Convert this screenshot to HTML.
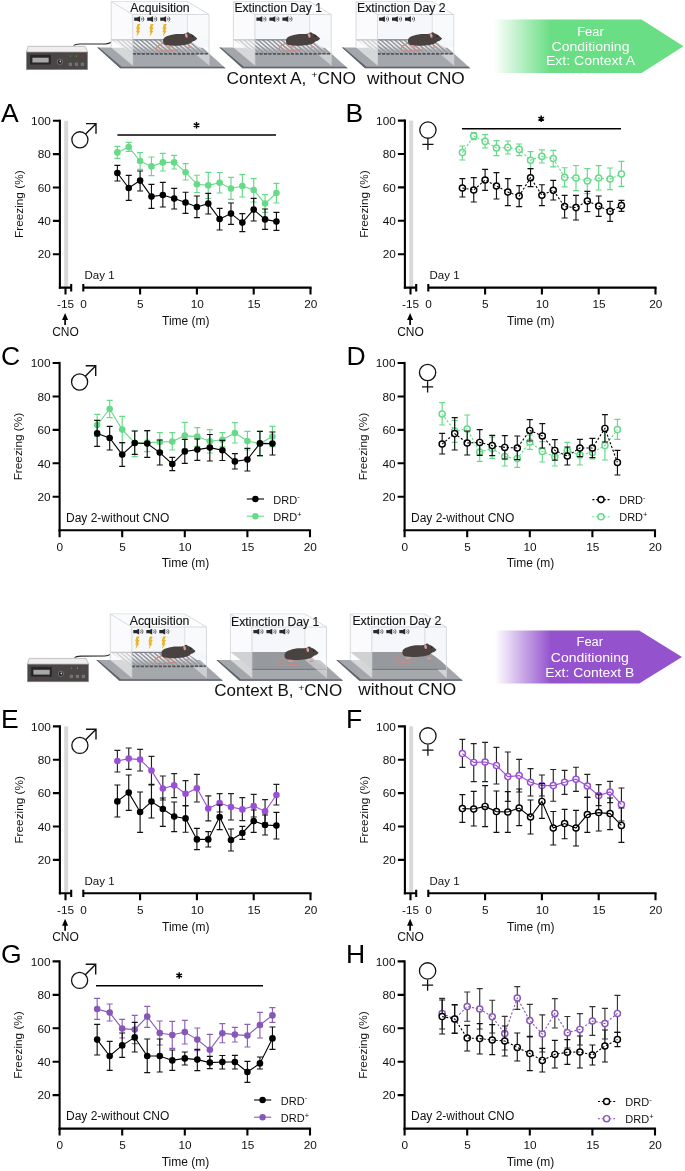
<!DOCTYPE html><html><head><meta charset="utf-8"><style>html,body{margin:0;padding:0;background:#fff;}svg{display:block;will-change:transform;}</style></head><body><svg width="685" height="1171" viewBox="0 0 685 1171" font-family='"Liberation Sans", sans-serif'><rect width="685" height="1171" fill="#fff"/><rect x="26.4" y="52" width="61.2" height="17.7" fill="#4a4646" stroke="#8f8f8f" stroke-width="0.6"/><path d="M28.1,46.3 L85,46.3 L87.6,52 L26.4,52 Z" fill="#efeded" stroke="#8f8f8f" stroke-width="0.5"/><rect x="30.1" y="54.8" width="20.7" height="9.7" fill="#262626"/><rect x="32.4" y="57.7" width="16.3" height="4.8" fill="#a8a8a8"/><circle cx="59.9" cy="61.8" r="2.6" fill="#1f1f1f" stroke="#b0b0b0" stroke-width="0.5"/><circle cx="60.3" cy="61.4" r="0.9" fill="#d0d0d0"/><circle cx="70.4" cy="56" r="0.6" fill="#46c046"/><rect x="69.1" y="63" width="2.6" height="2.6" rx="0.6" fill="#6c6c6c" stroke="#a0a0a0" stroke-width="0.4"/><circle cx="76.4" cy="56" r="0.6" fill="#e0a528"/><rect x="75.1" y="63" width="2.6" height="2.6" rx="0.6" fill="#6c6c6c" stroke="#a0a0a0" stroke-width="0.4"/><circle cx="82.4" cy="56" r="0.6" fill="#d23a32"/><rect x="81.1" y="63" width="2.6" height="2.6" rx="0.6" fill="#6c6c6c" stroke="#a0a0a0" stroke-width="0.4"/><path d="M73.7,45.7 C74.6,44.3 76.1,44.1 80.1,44 L105.8,43.9 C108.8,43.8 109.8,43.2 111.2,42.3" fill="none" stroke="#2a2a2a" stroke-width="1.1"/><path d="M97.2,47.6 L202.5,47.6 L225.5,68.3 L120.2,68.3 Z" fill="#a3a6ab"/><path d="M97.2,47.6 L120.2,68.3 L225.5,68.3 L223.7,66.7 L121.6,66.7 L98.9,47.6 Z" fill="#5e646b"/><path d="M111.2,1.5 L187.5,1.5 L209,14.5 L209,47.6 L111.2,47.6 Z" fill="#f5f7fa"/><path d="M111.2,39.4 L187.5,39.4 L209,53.8 L132.7,53.8 Z" fill="#979ba0"/><clipPath id="fl111_0"><path d="M111.2,39.4 L187.5,39.4 L209,53.8 L132.7,53.8 Z"/></clipPath><path clip-path="url(#fl111_0)" d="M81.2,39.4 l16.7,14.4 M85.9,39.4 l16.7,14.4 M90.6,39.4 l16.7,14.4 M95.3,39.4 l16.7,14.4 M100,39.4 l16.7,14.4 M104.7,39.4 l16.7,14.4 M109.4,39.4 l16.7,14.4 M114.1,39.4 l16.7,14.4 M118.8,39.4 l16.7,14.4 M123.5,39.4 l16.7,14.4 M128.2,39.4 l16.7,14.4 M132.9,39.4 l16.7,14.4 M137.6,39.4 l16.7,14.4 M142.3,39.4 l16.7,14.4 M147,39.4 l16.7,14.4 M151.7,39.4 l16.7,14.4 M156.4,39.4 l16.7,14.4 M161.1,39.4 l16.7,14.4 M165.8,39.4 l16.7,14.4 M170.5,39.4 l16.7,14.4 M175.2,39.4 l16.7,14.4 M179.9,39.4 l16.7,14.4 M184.6,39.4 l16.7,14.4 M189.3,39.4 l16.7,14.4 M194,39.4 l16.7,14.4" stroke="#f3f4f5" stroke-width="1.4"/><linearGradient id="fg111_0" x1="0" y1="39.4" x2="0" y2="53.8" gradientUnits="userSpaceOnUse"><stop offset="0.45" stop-color="#979ba0" stop-opacity="0"/><stop offset="0.8" stop-color="#979ba0" stop-opacity="0.75"/></linearGradient><path d="M111.2,39.4 L187.5,39.4 L209,53.8 L132.7,53.8 Z" fill="url(#fg111_0)"/><line x1="111.2" y1="39.9" x2="187.5" y2="39.9" stroke="#80848a" stroke-width="1.2"/><rect x="132.7" y="53.8" width="76.3" height="11.6" fill="#a4a7ac"/><path d="M111.2,1.5 L187.5,1.5 M187.5,1.5 L187.5,39.4" fill="none" stroke="#cfd2d6" stroke-width="0.8"/><line x1="132.7" y1="53.8" x2="209" y2="53.8" stroke="#50555b" stroke-width="1.7" stroke-dasharray="3.2,1.3"/><path d="M111.2,1.5 L132.7,14.5 L132.7,65.4 L111.2,47.6 Z" fill="#ffffff" fill-opacity="0.55"/><path d="M187.5,1.5 L209,14.5 L209,39.4 L187.5,39.4 Z" fill="#ffffff" fill-opacity="0.4"/><path d="M196,54.6 L209,54.6 L209,65.4 Z" fill="#ffffff" fill-opacity="0.45"/><g transform="translate(180.2,40) scale(1.07)"><path d="M-15.6,3 C-19,4 -23,6.5 -22.3,8.8 C-21.6,10.8 -18,10.6 -13,10.2 C-9,9.9 -5,9.4 -2,9.1" fill="none" stroke="#c98a80" stroke-width="1.15"/><ellipse cx="-10.4" cy="6.2" rx="2.6" ry="1" fill="#d29b93"/><ellipse cx="9" cy="6.5" rx="2" ry="0.9" fill="#d29b93"/><path d="M-16,1.1 C-16,-2 -14,-3 -11.1,-3.9 C-8,-5.2 -5,-5.7 -1,-5.7 C2,-5.7 4,-5.5 5.5,-6.3 C6.3,-7.6 7.8,-7.6 8.6,-6.4 C11,-5.6 14,-3.6 15.9,-1.4 C15.2,0 13.6,0.9 12,1.1 C10.5,2.4 8.6,3.6 6.8,4 C3,5.2 -1,5.4 -4.1,5.3 C-8,5.2 -11,5.1 -13.5,4.6 C-15.3,4 -16,2.8 -16,1.1 Z" fill="#4a4240"/><ellipse cx="5.7" cy="-4.2" rx="1.2" ry="2.1" fill="#d8a19a" transform="rotate(-15 5.7 -4.2)"/><circle cx="11.3" cy="-3.4" r="0.7" fill="#1c1817"/></g><path d="M111.2,1.5 L187.5,1.5 L209,14.5 L132.7,14.5 Z" fill="#ffffff" fill-opacity="0.5"/><path d="M111.2,1.5 L132.7,14.5 L209,14.5 L187.5,1.5 M111.2,1.5 L111.2,47.6 M132.7,14.5 L132.7,65.4 M209,14.5 L209,65.4" fill="none" stroke="#cfd2d6" stroke-width="0.8"/><text x="130.3" y="12.2" font-size="12.3" textLength="59.4" lengthAdjust="spacingAndGlyphs" fill="#151515" stroke="#151515" stroke-width="0.12">Acquisition</text><path d="M134.2,17.5 h3 L140.1,16.3 V21.9 L137.2,20.7 h-3 Z" fill="#2a2a2a"/><path d="M141.4,17.8 A1.7,1.7 0 0 1 141.4,20.4 M142.6,16.7 A3,3 0 0 1 142.6,21.5" fill="none" stroke="#333" stroke-width="0.8"/><path d="M147.2,17.5 h3 L153.1,16.3 V21.9 L150.2,20.7 h-3 Z" fill="#2a2a2a"/><path d="M154.4,17.8 A1.7,1.7 0 0 1 154.4,20.4 M155.6,16.7 A3,3 0 0 1 155.6,21.5" fill="none" stroke="#333" stroke-width="0.8"/><path d="M160.2,17.5 h3 L166.1,16.3 V21.9 L163.2,20.7 h-3 Z" fill="#2a2a2a"/><path d="M167.4,17.8 A1.7,1.7 0 0 1 167.4,20.4 M168.6,16.7 A3,3 0 0 1 168.6,21.5" fill="none" stroke="#333" stroke-width="0.8"/><path d="M137.5,23.9 L140.4,23.9 L138.9,27.5 L140.4,27.5 L138.7,31.1 L140.2,31.1 L136.4,36.7 L137.4,32.3 L136.1,32.3 L137.2,28.9 L136.1,28.9 Z" fill="#ecb424"/><path d="M150.7,23.9 L153.6,23.9 L152.1,27.5 L153.6,27.5 L151.9,31.1 L153.4,31.1 L149.6,36.7 L150.6,32.3 L149.3,32.3 L150.4,28.9 L149.3,28.9 Z" fill="#ecb424"/><path d="M163.9,23.9 L166.8,23.9 L165.3,27.5 L166.8,27.5 L165.1,31.1 L166.6,31.1 L162.8,36.7 L163.8,32.3 L162.5,32.3 L163.6,28.9 L162.5,28.9 Z" fill="#ecb424"/><path d="M219.4,47.6 L324.7,47.6 L347.7,68.3 L242.4,68.3 Z" fill="#a3a6ab"/><path d="M219.4,47.6 L242.4,68.3 L347.7,68.3 L345.9,66.7 L243.8,66.7 L221.1,47.6 Z" fill="#5e646b"/><path d="M233.4,1.5 L309.7,1.5 L331.2,14.5 L331.2,47.6 L233.4,47.6 Z" fill="#f5f7fa"/><path d="M233.4,39.4 L309.7,39.4 L331.2,53.8 L254.9,53.8 Z" fill="#979ba0"/><clipPath id="fl233_0"><path d="M233.4,39.4 L309.7,39.4 L331.2,53.8 L254.9,53.8 Z"/></clipPath><path clip-path="url(#fl233_0)" d="M203.4,39.4 l16.7,14.4 M208.1,39.4 l16.7,14.4 M212.8,39.4 l16.7,14.4 M217.5,39.4 l16.7,14.4 M222.2,39.4 l16.7,14.4 M226.9,39.4 l16.7,14.4 M231.6,39.4 l16.7,14.4 M236.3,39.4 l16.7,14.4 M241,39.4 l16.7,14.4 M245.7,39.4 l16.7,14.4 M250.4,39.4 l16.7,14.4 M255.1,39.4 l16.7,14.4 M259.8,39.4 l16.7,14.4 M264.5,39.4 l16.7,14.4 M269.2,39.4 l16.7,14.4 M273.9,39.4 l16.7,14.4 M278.6,39.4 l16.7,14.4 M283.3,39.4 l16.7,14.4 M288,39.4 l16.7,14.4 M292.7,39.4 l16.7,14.4 M297.4,39.4 l16.7,14.4 M302.1,39.4 l16.7,14.4 M306.8,39.4 l16.7,14.4 M311.5,39.4 l16.7,14.4 M316.2,39.4 l16.7,14.4" stroke="#f3f4f5" stroke-width="1.4"/><linearGradient id="fg233_0" x1="0" y1="39.4" x2="0" y2="53.8" gradientUnits="userSpaceOnUse"><stop offset="0.45" stop-color="#979ba0" stop-opacity="0"/><stop offset="0.8" stop-color="#979ba0" stop-opacity="0.75"/></linearGradient><path d="M233.4,39.4 L309.7,39.4 L331.2,53.8 L254.9,53.8 Z" fill="url(#fg233_0)"/><line x1="233.4" y1="39.9" x2="309.7" y2="39.9" stroke="#80848a" stroke-width="1.2"/><rect x="254.9" y="53.8" width="76.3" height="11.6" fill="#a4a7ac"/><path d="M233.4,1.5 L309.7,1.5 M309.7,1.5 L309.7,39.4" fill="none" stroke="#cfd2d6" stroke-width="0.8"/><line x1="254.9" y1="53.8" x2="331.2" y2="53.8" stroke="#50555b" stroke-width="1.7" stroke-dasharray="3.2,1.3"/><path d="M233.4,1.5 L254.9,14.5 L254.9,65.4 L233.4,47.6 Z" fill="#ffffff" fill-opacity="0.55"/><path d="M309.7,1.5 L331.2,14.5 L331.2,39.4 L309.7,39.4 Z" fill="#ffffff" fill-opacity="0.4"/><path d="M318.2,54.6 L331.2,54.6 L331.2,65.4 Z" fill="#ffffff" fill-opacity="0.45"/><g transform="translate(303.1,40) scale(1.07)"><path d="M-15.6,3 C-19,4 -23,6.5 -22.3,8.8 C-21.6,10.8 -18,10.6 -13,10.2 C-9,9.9 -5,9.4 -2,9.1" fill="none" stroke="#c98a80" stroke-width="1.15"/><ellipse cx="-10.4" cy="6.2" rx="2.6" ry="1" fill="#d29b93"/><ellipse cx="9" cy="6.5" rx="2" ry="0.9" fill="#d29b93"/><path d="M-16,1.1 C-16,-2 -14,-3 -11.1,-3.9 C-8,-5.2 -5,-5.7 -1,-5.7 C2,-5.7 4,-5.5 5.5,-6.3 C6.3,-7.6 7.8,-7.6 8.6,-6.4 C11,-5.6 14,-3.6 15.9,-1.4 C15.2,0 13.6,0.9 12,1.1 C10.5,2.4 8.6,3.6 6.8,4 C3,5.2 -1,5.4 -4.1,5.3 C-8,5.2 -11,5.1 -13.5,4.6 C-15.3,4 -16,2.8 -16,1.1 Z" fill="#4a4240"/><ellipse cx="5.7" cy="-4.2" rx="1.2" ry="2.1" fill="#d8a19a" transform="rotate(-15 5.7 -4.2)"/><circle cx="11.3" cy="-3.4" r="0.7" fill="#1c1817"/></g><path d="M233.4,1.5 L309.7,1.5 L331.2,14.5 L254.9,14.5 Z" fill="#ffffff" fill-opacity="0.5"/><path d="M233.4,1.5 L254.9,14.5 L331.2,14.5 L309.7,1.5 M233.4,1.5 L233.4,47.6 M254.9,14.5 L254.9,65.4 M331.2,14.5 L331.2,65.4" fill="none" stroke="#cfd2d6" stroke-width="0.8"/><text x="234.4" y="12.4" font-size="12.3" textLength="87.6" lengthAdjust="spacingAndGlyphs" fill="#151515" stroke="#151515" stroke-width="0.12">Extinction Day 1</text><path d="M256.4,17.5 h3 L262.3,16.3 V21.9 L259.4,20.7 h-3 Z" fill="#2a2a2a"/><path d="M263.6,17.8 A1.7,1.7 0 0 1 263.6,20.4 M264.8,16.7 A3,3 0 0 1 264.8,21.5" fill="none" stroke="#333" stroke-width="0.8"/><path d="M269.4,17.5 h3 L275.3,16.3 V21.9 L272.4,20.7 h-3 Z" fill="#2a2a2a"/><path d="M276.6,17.8 A1.7,1.7 0 0 1 276.6,20.4 M277.8,16.7 A3,3 0 0 1 277.8,21.5" fill="none" stroke="#333" stroke-width="0.8"/><path d="M282.4,17.5 h3 L288.3,16.3 V21.9 L285.4,20.7 h-3 Z" fill="#2a2a2a"/><path d="M289.6,17.8 A1.7,1.7 0 0 1 289.6,20.4 M290.8,16.7 A3,3 0 0 1 290.8,21.5" fill="none" stroke="#333" stroke-width="0.8"/><path d="M342,47.6 L447.3,47.6 L470.3,68.3 L365,68.3 Z" fill="#a3a6ab"/><path d="M342,47.6 L365,68.3 L470.3,68.3 L468.5,66.7 L366.4,66.7 L343.7,47.6 Z" fill="#5e646b"/><path d="M356,1.5 L432.3,1.5 L453.8,14.5 L453.8,47.6 L356,47.6 Z" fill="#f5f7fa"/><path d="M356,39.4 L432.3,39.4 L453.8,53.8 L377.5,53.8 Z" fill="#979ba0"/><clipPath id="fl356_0"><path d="M356,39.4 L432.3,39.4 L453.8,53.8 L377.5,53.8 Z"/></clipPath><path clip-path="url(#fl356_0)" d="M326,39.4 l16.7,14.4 M330.7,39.4 l16.7,14.4 M335.4,39.4 l16.7,14.4 M340.1,39.4 l16.7,14.4 M344.8,39.4 l16.7,14.4 M349.5,39.4 l16.7,14.4 M354.2,39.4 l16.7,14.4 M358.9,39.4 l16.7,14.4 M363.6,39.4 l16.7,14.4 M368.3,39.4 l16.7,14.4 M373,39.4 l16.7,14.4 M377.7,39.4 l16.7,14.4 M382.4,39.4 l16.7,14.4 M387.1,39.4 l16.7,14.4 M391.8,39.4 l16.7,14.4 M396.5,39.4 l16.7,14.4 M401.2,39.4 l16.7,14.4 M405.9,39.4 l16.7,14.4 M410.6,39.4 l16.7,14.4 M415.3,39.4 l16.7,14.4 M420,39.4 l16.7,14.4 M424.7,39.4 l16.7,14.4 M429.4,39.4 l16.7,14.4 M434.1,39.4 l16.7,14.4 M438.8,39.4 l16.7,14.4" stroke="#f3f4f5" stroke-width="1.4"/><linearGradient id="fg356_0" x1="0" y1="39.4" x2="0" y2="53.8" gradientUnits="userSpaceOnUse"><stop offset="0.45" stop-color="#979ba0" stop-opacity="0"/><stop offset="0.8" stop-color="#979ba0" stop-opacity="0.75"/></linearGradient><path d="M356,39.4 L432.3,39.4 L453.8,53.8 L377.5,53.8 Z" fill="url(#fg356_0)"/><line x1="356" y1="39.9" x2="432.3" y2="39.9" stroke="#80848a" stroke-width="1.2"/><rect x="377.5" y="53.8" width="76.3" height="11.6" fill="#a4a7ac"/><path d="M356,1.5 L432.3,1.5 M432.3,1.5 L432.3,39.4" fill="none" stroke="#cfd2d6" stroke-width="0.8"/><line x1="377.5" y1="53.8" x2="453.8" y2="53.8" stroke="#50555b" stroke-width="1.7" stroke-dasharray="3.2,1.3"/><path d="M356,1.5 L377.5,14.5 L377.5,65.4 L356,47.6 Z" fill="#ffffff" fill-opacity="0.55"/><path d="M432.3,1.5 L453.8,14.5 L453.8,39.4 L432.3,39.4 Z" fill="#ffffff" fill-opacity="0.4"/><path d="M440.8,54.6 L453.8,54.6 L453.8,65.4 Z" fill="#ffffff" fill-opacity="0.45"/><g transform="translate(425.1,40) scale(1.07)"><path d="M-15.6,3 C-19,4 -23,6.5 -22.3,8.8 C-21.6,10.8 -18,10.6 -13,10.2 C-9,9.9 -5,9.4 -2,9.1" fill="none" stroke="#c98a80" stroke-width="1.15"/><ellipse cx="-10.4" cy="6.2" rx="2.6" ry="1" fill="#d29b93"/><ellipse cx="9" cy="6.5" rx="2" ry="0.9" fill="#d29b93"/><path d="M-16,1.1 C-16,-2 -14,-3 -11.1,-3.9 C-8,-5.2 -5,-5.7 -1,-5.7 C2,-5.7 4,-5.5 5.5,-6.3 C6.3,-7.6 7.8,-7.6 8.6,-6.4 C11,-5.6 14,-3.6 15.9,-1.4 C15.2,0 13.6,0.9 12,1.1 C10.5,2.4 8.6,3.6 6.8,4 C3,5.2 -1,5.4 -4.1,5.3 C-8,5.2 -11,5.1 -13.5,4.6 C-15.3,4 -16,2.8 -16,1.1 Z" fill="#4a4240"/><ellipse cx="5.7" cy="-4.2" rx="1.2" ry="2.1" fill="#d8a19a" transform="rotate(-15 5.7 -4.2)"/><circle cx="11.3" cy="-3.4" r="0.7" fill="#1c1817"/></g><path d="M356,1.5 L432.3,1.5 L453.8,14.5 L377.5,14.5 Z" fill="#ffffff" fill-opacity="0.5"/><path d="M356,1.5 L377.5,14.5 L453.8,14.5 L432.3,1.5 M356,1.5 L356,47.6 M377.5,14.5 L377.5,65.4 M453.8,14.5 L453.8,65.4" fill="none" stroke="#cfd2d6" stroke-width="0.8"/><text x="357" y="12.4" font-size="12.3" textLength="88.6" lengthAdjust="spacingAndGlyphs" fill="#151515" stroke="#151515" stroke-width="0.12">Extinction Day 2</text><path d="M379,17.5 h3 L384.9,16.3 V21.9 L382,20.7 h-3 Z" fill="#2a2a2a"/><path d="M386.2,17.8 A1.7,1.7 0 0 1 386.2,20.4 M387.4,16.7 A3,3 0 0 1 387.4,21.5" fill="none" stroke="#333" stroke-width="0.8"/><path d="M392,17.5 h3 L397.9,16.3 V21.9 L395,20.7 h-3 Z" fill="#2a2a2a"/><path d="M399.2,17.8 A1.7,1.7 0 0 1 399.2,20.4 M400.4,16.7 A3,3 0 0 1 400.4,21.5" fill="none" stroke="#333" stroke-width="0.8"/><path d="M405,17.5 h3 L410.9,16.3 V21.9 L408,20.7 h-3 Z" fill="#2a2a2a"/><path d="M412.2,17.8 A1.7,1.7 0 0 1 412.2,20.4 M413.4,16.7 A3,3 0 0 1 413.4,21.5" fill="none" stroke="#333" stroke-width="0.8"/><text x="226.5" y="84" font-size="15.6" textLength="129.4" lengthAdjust="spacingAndGlyphs" fill="#111">Context A, <tspan font-size="9.5" dy="-5.6">+</tspan><tspan dy="5.6">CNO</tspan></text><text x="367" y="83.7" font-size="15.6" textLength="97.8" lengthAdjust="spacingAndGlyphs" fill="#111">without CNO</text><defs><linearGradient id="ag0" x1="493.5" x2="683.5" y1="0" y2="0" gradientUnits="userSpaceOnUse"><stop offset="0" stop-color="#6ade85" stop-opacity="0"/><stop offset="0.3" stop-color="#6ade85" stop-opacity="1"/><stop offset="1" stop-color="#6ade85"/></linearGradient></defs><path d="M493.5,19.5 L641.6,19.5 L683.5,46.2 L641.6,72.9 L493.5,72.9 Z" fill="url(#ag0)"/><text x="590.5" y="35.6" font-size="12.6" text-anchor="middle" fill="#fff" textLength="26.5" lengthAdjust="spacingAndGlyphs">Fear</text><text x="590.5" y="50.7" font-size="12.6" text-anchor="middle" fill="#fff" textLength="77.9" lengthAdjust="spacingAndGlyphs">Conditioning</text><text x="590.5" y="65.3" font-size="12.6" text-anchor="middle" fill="#fff" textLength="89.1" lengthAdjust="spacingAndGlyphs">Ext: Context A</text><rect x="27.4" y="664.1" width="61.2" height="17.7" fill="#4a4646" stroke="#8f8f8f" stroke-width="0.6"/><path d="M29.1,658.4 L86,658.4 L88.6,664.1 L27.4,664.1 Z" fill="#efeded" stroke="#8f8f8f" stroke-width="0.5"/><rect x="31.1" y="666.9" width="20.7" height="9.7" fill="#262626"/><rect x="33.4" y="669.8" width="16.3" height="4.8" fill="#a8a8a8"/><circle cx="60.9" cy="673.9" r="2.6" fill="#1f1f1f" stroke="#b0b0b0" stroke-width="0.5"/><circle cx="61.3" cy="673.5" r="0.9" fill="#d0d0d0"/><circle cx="71.4" cy="668.1" r="0.6" fill="#46c046"/><rect x="70.1" y="675.1" width="2.6" height="2.6" rx="0.6" fill="#6c6c6c" stroke="#a0a0a0" stroke-width="0.4"/><circle cx="77.4" cy="668.1" r="0.6" fill="#e0a528"/><rect x="76.1" y="675.1" width="2.6" height="2.6" rx="0.6" fill="#6c6c6c" stroke="#a0a0a0" stroke-width="0.4"/><circle cx="83.4" cy="668.1" r="0.6" fill="#d23a32"/><rect x="82.1" y="675.1" width="2.6" height="2.6" rx="0.6" fill="#6c6c6c" stroke="#a0a0a0" stroke-width="0.4"/><path d="M74.7,657.8 C75.6,656.4 77.1,656.2 81.1,656.1 L104.9,656 C107.9,655.9 108.9,655.3 110.3,654.4" fill="none" stroke="#2a2a2a" stroke-width="1.1"/><path d="M96.3,660.1 L199.9,660.1 L222.9,680.8 L119.3,680.8 Z" fill="#a3a6ab"/><path d="M96.3,660.1 L119.3,680.8 L222.9,680.8 L221.1,679.2 L120.7,679.2 L98,660.1 Z" fill="#5e646b"/><path d="M110.3,614 L184.9,614 L206.4,627 L206.4,660.1 L110.3,660.1 Z" fill="#f5f7fa"/><path d="M110.3,651.9 L184.9,651.9 L206.4,666.3 L131.8,666.3 Z" fill="#979ba0"/><clipPath id="fl110_612"><path d="M110.3,651.9 L184.9,651.9 L206.4,666.3 L131.8,666.3 Z"/></clipPath><path clip-path="url(#fl110_612)" d="M80.3,651.9 l16.7,14.4 M85,651.9 l16.7,14.4 M89.7,651.9 l16.7,14.4 M94.4,651.9 l16.7,14.4 M99.1,651.9 l16.7,14.4 M103.8,651.9 l16.7,14.4 M108.5,651.9 l16.7,14.4 M113.2,651.9 l16.7,14.4 M117.9,651.9 l16.7,14.4 M122.6,651.9 l16.7,14.4 M127.3,651.9 l16.7,14.4 M132,651.9 l16.7,14.4 M136.7,651.9 l16.7,14.4 M141.4,651.9 l16.7,14.4 M146.1,651.9 l16.7,14.4 M150.8,651.9 l16.7,14.4 M155.5,651.9 l16.7,14.4 M160.2,651.9 l16.7,14.4 M164.9,651.9 l16.7,14.4 M169.6,651.9 l16.7,14.4 M174.3,651.9 l16.7,14.4 M179,651.9 l16.7,14.4 M183.7,651.9 l16.7,14.4 M188.4,651.9 l16.7,14.4" stroke="#f3f4f5" stroke-width="1.4"/><linearGradient id="fg110_612" x1="0" y1="651.9" x2="0" y2="666.3" gradientUnits="userSpaceOnUse"><stop offset="0.45" stop-color="#979ba0" stop-opacity="0"/><stop offset="0.8" stop-color="#979ba0" stop-opacity="0.75"/></linearGradient><path d="M110.3,651.9 L184.9,651.9 L206.4,666.3 L131.8,666.3 Z" fill="url(#fg110_612)"/><line x1="110.3" y1="652.4" x2="184.9" y2="652.4" stroke="#80848a" stroke-width="1.2"/><rect x="131.8" y="666.3" width="74.6" height="11.6" fill="#a4a7ac"/><path d="M110.3,614 L184.9,614 M184.9,614 L184.9,651.9" fill="none" stroke="#cfd2d6" stroke-width="0.8"/><line x1="131.8" y1="666.3" x2="206.4" y2="666.3" stroke="#50555b" stroke-width="1.7" stroke-dasharray="3.2,1.3"/><path d="M110.3,614 L131.8,627 L131.8,677.9 L110.3,660.1 Z" fill="#ffffff" fill-opacity="0.55"/><path d="M184.9,614 L206.4,627 L206.4,651.9 L184.9,651.9 Z" fill="#ffffff" fill-opacity="0.4"/><path d="M193.4,667.1 L206.4,667.1 L206.4,677.9 Z" fill="#ffffff" fill-opacity="0.45"/><g transform="translate(178.5,652.5) scale(1.07)"><path d="M-15.6,3 C-19,4 -23,6.5 -22.3,8.8 C-21.6,10.8 -18,10.6 -13,10.2 C-9,9.9 -5,9.4 -2,9.1" fill="none" stroke="#c98a80" stroke-width="1.15"/><ellipse cx="-10.4" cy="6.2" rx="2.6" ry="1" fill="#d29b93"/><ellipse cx="9" cy="6.5" rx="2" ry="0.9" fill="#d29b93"/><path d="M-16,1.1 C-16,-2 -14,-3 -11.1,-3.9 C-8,-5.2 -5,-5.7 -1,-5.7 C2,-5.7 4,-5.5 5.5,-6.3 C6.3,-7.6 7.8,-7.6 8.6,-6.4 C11,-5.6 14,-3.6 15.9,-1.4 C15.2,0 13.6,0.9 12,1.1 C10.5,2.4 8.6,3.6 6.8,4 C3,5.2 -1,5.4 -4.1,5.3 C-8,5.2 -11,5.1 -13.5,4.6 C-15.3,4 -16,2.8 -16,1.1 Z" fill="#4a4240"/><ellipse cx="5.7" cy="-4.2" rx="1.2" ry="2.1" fill="#d8a19a" transform="rotate(-15 5.7 -4.2)"/><circle cx="11.3" cy="-3.4" r="0.7" fill="#1c1817"/></g><path d="M110.3,614 L184.9,614 L206.4,627 L131.8,627 Z" fill="#ffffff" fill-opacity="0.5"/><path d="M110.3,614 L131.8,627 L206.4,627 L184.9,614 M110.3,614 L110.3,660.1 M131.8,627 L131.8,677.9 M206.4,627 L206.4,677.9" fill="none" stroke="#cfd2d6" stroke-width="0.8"/><text x="129.7" y="625.4" font-size="12.3" textLength="59.7" lengthAdjust="spacingAndGlyphs" fill="#151515" stroke="#151515" stroke-width="0.12">Acquisition</text><path d="M133.3,630 h3 L139.2,628.8 V634.4 L136.3,633.2 h-3 Z" fill="#2a2a2a"/><path d="M140.5,630.3 A1.7,1.7 0 0 1 140.5,632.9 M141.7,629.2 A3,3 0 0 1 141.7,634" fill="none" stroke="#333" stroke-width="0.8"/><path d="M146.3,630 h3 L152.2,628.8 V634.4 L149.3,633.2 h-3 Z" fill="#2a2a2a"/><path d="M153.5,630.3 A1.7,1.7 0 0 1 153.5,632.9 M154.7,629.2 A3,3 0 0 1 154.7,634" fill="none" stroke="#333" stroke-width="0.8"/><path d="M159.3,630 h3 L165.2,628.8 V634.4 L162.3,633.2 h-3 Z" fill="#2a2a2a"/><path d="M166.5,630.3 A1.7,1.7 0 0 1 166.5,632.9 M167.7,629.2 A3,3 0 0 1 167.7,634" fill="none" stroke="#333" stroke-width="0.8"/><path d="M136.6,636.4 L139.5,636.4 L138,640 L139.5,640 L137.8,643.6 L139.3,643.6 L135.5,649.2 L136.5,644.8 L135.2,644.8 L136.3,641.4 L135.2,641.4 Z" fill="#ecb424"/><path d="M149.8,636.4 L152.7,636.4 L151.2,640 L152.7,640 L151,643.6 L152.5,643.6 L148.7,649.2 L149.7,644.8 L148.4,644.8 L149.5,641.4 L148.4,641.4 Z" fill="#ecb424"/><path d="M163,636.4 L165.9,636.4 L164.4,640 L165.9,640 L164.2,643.6 L165.7,643.6 L161.9,649.2 L162.9,644.8 L161.6,644.8 L162.7,641.4 L161.6,641.4 Z" fill="#ecb424"/><path d="M216.4,660.1 L320,660.1 L343,680.8 L239.4,680.8 Z" fill="#a3a6ab"/><path d="M216.4,660.1 L239.4,680.8 L343,680.8 L341.2,679.2 L240.8,679.2 L218.1,660.1 Z" fill="#5e646b"/><path d="M230.4,614 L305,614 L326.5,627 L326.5,660.1 L230.4,660.1 Z" fill="#f5f7fa"/><path d="M230.4,652.1 L305,652.1 L326.5,669.1 L251.9,669.1 Z" fill="#96999e"/><rect x="251.9" y="669.1" width="74.6" height="8.8" fill="#a5a8ad"/><line x1="251.9" y1="669.4" x2="326.5" y2="669.4" stroke="#70757b" stroke-width="1"/><path d="M230.4,614 L305,614 M305,614 L305,652.1" fill="none" stroke="#cfd2d6" stroke-width="0.8"/><path d="M230.4,614 L251.9,627 L251.9,677.9 L230.4,660.1 Z" fill="#ffffff" fill-opacity="0.55"/><path d="M305,614 L326.5,627 L326.5,677.9 L305,660.1 Z" fill="#ffffff" fill-opacity="0.4"/><g transform="translate(301.6,654.3) scale(1.07)"><path d="M-15.6,3 C-19,4 -23,6.5 -22.3,8.8 C-21.6,10.8 -18,10.6 -13,10.2 C-9,9.9 -5,9.4 -2,9.1" fill="none" stroke="#c98a80" stroke-width="1.15"/><ellipse cx="-10.4" cy="6.2" rx="2.6" ry="1" fill="#d29b93"/><ellipse cx="9" cy="6.5" rx="2" ry="0.9" fill="#d29b93"/><path d="M-16,1.1 C-16,-2 -14,-3 -11.1,-3.9 C-8,-5.2 -5,-5.7 -1,-5.7 C2,-5.7 4,-5.5 5.5,-6.3 C6.3,-7.6 7.8,-7.6 8.6,-6.4 C11,-5.6 14,-3.6 15.9,-1.4 C15.2,0 13.6,0.9 12,1.1 C10.5,2.4 8.6,3.6 6.8,4 C3,5.2 -1,5.4 -4.1,5.3 C-8,5.2 -11,5.1 -13.5,4.6 C-15.3,4 -16,2.8 -16,1.1 Z" fill="#4a4240"/><ellipse cx="5.7" cy="-4.2" rx="1.2" ry="2.1" fill="#d8a19a" transform="rotate(-15 5.7 -4.2)"/><circle cx="11.3" cy="-3.4" r="0.7" fill="#1c1817"/></g><path d="M230.4,614 L305,614 L326.5,627 L251.9,627 Z" fill="#ffffff" fill-opacity="0.5"/><path d="M230.4,614 L251.9,627 L326.5,627 L305,614 M230.4,614 L230.4,660.1 M251.9,627 L251.9,677.9 M326.5,627 L326.5,677.9" fill="none" stroke="#cfd2d6" stroke-width="0.8"/><text x="231" y="625.9" font-size="12.3" textLength="88.4" lengthAdjust="spacingAndGlyphs" fill="#151515" stroke="#151515" stroke-width="0.12">Extinction Day 1</text><path d="M253.4,630 h3 L259.3,628.8 V634.4 L256.4,633.2 h-3 Z" fill="#2a2a2a"/><path d="M260.6,630.3 A1.7,1.7 0 0 1 260.6,632.9 M261.8,629.2 A3,3 0 0 1 261.8,634" fill="none" stroke="#333" stroke-width="0.8"/><path d="M266.4,630 h3 L272.3,628.8 V634.4 L269.4,633.2 h-3 Z" fill="#2a2a2a"/><path d="M273.6,630.3 A1.7,1.7 0 0 1 273.6,632.9 M274.8,629.2 A3,3 0 0 1 274.8,634" fill="none" stroke="#333" stroke-width="0.8"/><path d="M279.4,630 h3 L285.3,628.8 V634.4 L282.4,633.2 h-3 Z" fill="#2a2a2a"/><path d="M286.6,630.3 A1.7,1.7 0 0 1 286.6,632.9 M287.8,629.2 A3,3 0 0 1 287.8,634" fill="none" stroke="#333" stroke-width="0.8"/><path d="M336.3,660.1 L439.9,660.1 L462.9,680.8 L359.3,680.8 Z" fill="#a3a6ab"/><path d="M336.3,660.1 L359.3,680.8 L462.9,680.8 L461.1,679.2 L360.7,679.2 L338,660.1 Z" fill="#5e646b"/><path d="M350.3,614 L424.9,614 L446.4,627 L446.4,660.1 L350.3,660.1 Z" fill="#f5f7fa"/><path d="M350.3,652.1 L422.9,652.1 C430.9,652.6 436.9,656.1 446.4,667.6 L446.4,669.1 L371.8,669.1 Z" fill="#96999e"/><rect x="371.8" y="669.1" width="74.6" height="8.8" fill="#a5a8ad"/><line x1="371.8" y1="669.4" x2="446.4" y2="669.4" stroke="#70757b" stroke-width="1"/><path d="M350.3,614 L424.9,614 M424.9,614 L424.9,652.1" fill="none" stroke="#cfd2d6" stroke-width="0.8"/><path d="M350.3,614 L371.8,627 L371.8,677.9 L350.3,660.1 Z" fill="#ffffff" fill-opacity="0.55"/><path d="M437.4,669.6 L446.4,669.6 L446.4,677.9 Z" fill="#ffffff" fill-opacity="0.5"/><g transform="translate(419.5,651.3) scale(1.07)"><path d="M-15.6,3 C-19,4 -23,6.5 -22.3,8.8 C-21.6,10.8 -18,10.6 -13,10.2 C-9,9.9 -5,9.4 -2,9.1" fill="none" stroke="#c98a80" stroke-width="1.15"/><ellipse cx="-10.4" cy="6.2" rx="2.6" ry="1" fill="#d29b93"/><ellipse cx="9" cy="6.5" rx="2" ry="0.9" fill="#d29b93"/><path d="M-16,1.1 C-16,-2 -14,-3 -11.1,-3.9 C-8,-5.2 -5,-5.7 -1,-5.7 C2,-5.7 4,-5.5 5.5,-6.3 C6.3,-7.6 7.8,-7.6 8.6,-6.4 C11,-5.6 14,-3.6 15.9,-1.4 C15.2,0 13.6,0.9 12,1.1 C10.5,2.4 8.6,3.6 6.8,4 C3,5.2 -1,5.4 -4.1,5.3 C-8,5.2 -11,5.1 -13.5,4.6 C-15.3,4 -16,2.8 -16,1.1 Z" fill="#4a4240"/><ellipse cx="5.7" cy="-4.2" rx="1.2" ry="2.1" fill="#d8a19a" transform="rotate(-15 5.7 -4.2)"/><circle cx="11.3" cy="-3.4" r="0.7" fill="#1c1817"/></g><path d="M350.3,614 L424.9,614 L446.4,627 L371.8,627 Z" fill="#ffffff" fill-opacity="0.5"/><path d="M350.3,614 L371.8,627 L446.4,627 L424.9,614 M350.3,614 L350.3,660.1 M371.8,627 L371.8,677.9 M446.4,627 L446.4,677.9" fill="none" stroke="#cfd2d6" stroke-width="0.8"/><text x="352.4" y="625.4" font-size="12.3" textLength="88.9" lengthAdjust="spacingAndGlyphs" fill="#151515" stroke="#151515" stroke-width="0.12">Extinction Day 2</text><path d="M373.3,630 h3 L379.2,628.8 V634.4 L376.3,633.2 h-3 Z" fill="#2a2a2a"/><path d="M380.5,630.3 A1.7,1.7 0 0 1 380.5,632.9 M381.7,629.2 A3,3 0 0 1 381.7,634" fill="none" stroke="#333" stroke-width="0.8"/><path d="M386.3,630 h3 L392.2,628.8 V634.4 L389.3,633.2 h-3 Z" fill="#2a2a2a"/><path d="M393.5,630.3 A1.7,1.7 0 0 1 393.5,632.9 M394.7,629.2 A3,3 0 0 1 394.7,634" fill="none" stroke="#333" stroke-width="0.8"/><path d="M399.3,630 h3 L405.2,628.8 V634.4 L402.3,633.2 h-3 Z" fill="#2a2a2a"/><path d="M406.5,630.3 A1.7,1.7 0 0 1 406.5,632.9 M407.7,629.2 A3,3 0 0 1 407.7,634" fill="none" stroke="#333" stroke-width="0.8"/><text x="214.3" y="696.2" font-size="15.6" textLength="127.8" lengthAdjust="spacingAndGlyphs" fill="#111">Context B, <tspan font-size="9.5" dy="-5.6">+</tspan><tspan dy="5.6">CNO</tspan></text><text x="358.3" y="695.2" font-size="15.6" textLength="97.9" lengthAdjust="spacingAndGlyphs" fill="#111">without CNO</text><defs><linearGradient id="ag612" x1="495" x2="682" y1="0" y2="0" gradientUnits="userSpaceOnUse"><stop offset="0" stop-color="#9452cd" stop-opacity="0"/><stop offset="0.3" stop-color="#9452cd" stop-opacity="1"/><stop offset="1" stop-color="#9452cd"/></linearGradient></defs><path d="M495,630.4 L639.2,630.4 L682,656.95 L639.2,683.5 L495,683.5 Z" fill="url(#ag612)"/><text x="589.8" y="646.3" font-size="12.6" text-anchor="middle" fill="#fff" textLength="26.5" lengthAdjust="spacingAndGlyphs">Fear</text><text x="589.8" y="661.9" font-size="12.6" text-anchor="middle" fill="#fff" textLength="77.9" lengthAdjust="spacingAndGlyphs">Conditioning</text><text x="589.8" y="676.9" font-size="12.6" text-anchor="middle" fill="#fff" textLength="88.9" lengthAdjust="spacingAndGlyphs">Ext: Context B</text><text x="1" y="122.4" font-size="26.5" fill="#000">A</text><rect x="64.2" y="120.8" width="4" height="165.8" fill="#d9d9d9"/><path d="M59.9,119.7 V288.7" stroke="#000" stroke-width="2.1"/><text x="50.8" y="125.05" font-size="11.8" text-anchor="end" fill="#111">100</text><text x="50.8" y="158.41" font-size="11.8" text-anchor="end" fill="#111">80</text><text x="50.8" y="191.77" font-size="11.8" text-anchor="end" fill="#111">60</text><text x="50.8" y="225.13" font-size="11.8" text-anchor="end" fill="#111">40</text><text x="50.8" y="258.49" font-size="11.8" text-anchor="end" fill="#111">20</text><path d="M52.9,120.8 H59.9 M52.9,154.16 H59.9 M52.9,187.52 H59.9 M52.9,220.88 H59.9 M52.9,254.24 H59.9" stroke="#000" stroke-width="2.1"/><text transform="translate(22.7,204.2) rotate(-90)" font-size="11.8" text-anchor="middle" fill="#111">Freezing (%)</text><path d="M58.85,287.6 H72.2 M71.2,284.1 V291.4 M65.5,287.6 V294.6" stroke="#000" stroke-width="2.1" fill="none"/><path d="M83.3,284.1 V291.4 M83.3,287.6 H311.55" stroke="#000" stroke-width="2.1" fill="none"/><path d="M140.1,287.6 V294.6 M196.9,287.6 V294.6 M253.7,287.6 V294.6 M310.5,287.6 V294.6" stroke="#000" stroke-width="2.1"/><text x="65.5" y="308" font-size="11.8" text-anchor="middle" fill="#111">-15</text><path d="M65.1,325.1 V318.6" stroke="#000" stroke-width="1.7"/><path d="M65.1,313 l-3.05,7.1 h6.1 Z" fill="#000"/><text x="65.5" y="335.6" font-size="12" text-anchor="middle" fill="#111">CNO</text><text x="83.6" y="308" font-size="11.8" text-anchor="middle" fill="#111">0</text><text x="140.4" y="308" font-size="11.8" text-anchor="middle" fill="#111">5</text><text x="197.2" y="308" font-size="11.8" text-anchor="middle" fill="#111">10</text><text x="254" y="308" font-size="11.8" text-anchor="middle" fill="#111">15</text><text x="310.8" y="308" font-size="11.8" text-anchor="middle" fill="#111">20</text><text x="185.8" y="324.8" font-size="12" text-anchor="middle" fill="#111">Time (m)</text><text x="84.5" y="279" font-size="11.5" fill="#111">Day 1</text><circle cx="79.9" cy="139.8" r="8.05" fill="none" stroke="#111" stroke-width="1.3"/><path d="M85.6,134.1 L95.8,123.9 M86,123.6 L96,123.6 L96,133.8" fill="none" stroke="#111" stroke-width="1.4"/><path d="M117.4,135 H276" stroke="#000" stroke-width="1.6"/><path d="M196.5,122 V128.4 M193.7,123.6 L199.3,126.8 M193.7,126.8 L199.3,123.6" stroke="#000" stroke-width="1.45"/><path d="M117.38,146.4 V158.4 M114.38,146.4 H120.38 M114.38,158.4 H120.38 M128.74,142.4 V151.4 M125.74,142.4 H131.74 M125.74,151.4 H131.74 M140.1,152.6 V169.4 M137.1,152.6 H143.1 M137.1,169.4 H143.1 M151.46,157 V175.6 M148.46,157 H154.46 M148.46,175.6 H154.46 M162.82,153.4 V171 M159.82,153.4 H165.82 M159.82,171 H165.82 M174.18,155.4 V169 M171.18,155.4 H177.18 M171.18,169 H177.18 M185.54,163.6 V180 M182.54,163.6 H188.54 M182.54,180 H188.54 M196.9,175.2 V192.5 M193.9,175.2 H199.9 M193.9,192.5 H199.9 M208.26,172.4 V198.5 M205.26,172.4 H211.26 M205.26,198.5 H211.26 M219.62,172.5 V193 M216.62,172.5 H222.62 M216.62,193 H222.62 M230.98,177.4 V199.4 M227.98,177.4 H233.98 M227.98,199.4 H233.98 M242.34,174.6 V197 M239.34,174.6 H245.34 M239.34,197 H245.34 M253.7,178.6 V202 M250.7,178.6 H256.7 M250.7,202 H256.7 M265.06,194.6 V212.4 M262.06,194.6 H268.06 M262.06,212.4 H268.06 M276.42,183.4 V203 M273.42,183.4 H279.42 M273.42,203 H279.42" stroke="#66da88" stroke-width="1.15" fill="none"/><polyline points="117.38,152.4 128.74,147 140.1,161 151.46,166.4 162.82,162.4 174.18,162.4 185.54,172.2 196.9,184.3 208.26,185.4 219.62,182.8 230.98,188.5 242.34,186 253.7,190 265.06,203.6 276.42,193" fill="none" stroke="#66da88" stroke-width="1.1"/><circle cx="117.38" cy="152.4" r="3.3" fill="#66da88"/><circle cx="128.74" cy="147" r="3.3" fill="#66da88"/><circle cx="140.1" cy="161" r="3.3" fill="#66da88"/><circle cx="151.46" cy="166.4" r="3.3" fill="#66da88"/><circle cx="162.82" cy="162.4" r="3.3" fill="#66da88"/><circle cx="174.18" cy="162.4" r="3.3" fill="#66da88"/><circle cx="185.54" cy="172.2" r="3.3" fill="#66da88"/><circle cx="196.9" cy="184.3" r="3.3" fill="#66da88"/><circle cx="208.26" cy="185.4" r="3.3" fill="#66da88"/><circle cx="219.62" cy="182.8" r="3.3" fill="#66da88"/><circle cx="230.98" cy="188.5" r="3.3" fill="#66da88"/><circle cx="242.34" cy="186" r="3.3" fill="#66da88"/><circle cx="253.7" cy="190" r="3.3" fill="#66da88"/><circle cx="265.06" cy="203.6" r="3.3" fill="#66da88"/><circle cx="276.42" cy="193" r="3.3" fill="#66da88"/><path d="M117.38,165.4 V181 M114.38,165.4 H120.38 M114.38,181 H120.38 M128.74,175.4 V200.4 M125.74,175.4 H131.74 M125.74,200.4 H131.74 M140.1,171 V191 M137.1,171 H143.1 M137.1,191 H143.1 M151.46,184.4 V208.4 M148.46,184.4 H154.46 M148.46,208.4 H154.46 M162.82,182.4 V207 M159.82,182.4 H165.82 M159.82,207 H165.82 M174.18,188.4 V209 M171.18,188.4 H177.18 M171.18,209 H177.18 M185.54,192.2 V213.4 M182.54,192.2 H188.54 M182.54,213.4 H188.54 M196.9,196 V217.6 M193.9,196 H199.9 M193.9,217.6 H199.9 M208.26,193.4 V214 M205.26,193.4 H211.26 M205.26,214 H211.26 M219.62,208.4 V230 M216.62,208.4 H222.62 M216.62,230 H222.62 M230.98,203 V224.4 M227.98,203 H233.98 M227.98,224.4 H233.98 M242.34,213.6 V231.6 M239.34,213.6 H245.34 M239.34,231.6 H245.34 M253.7,198.4 V221 M250.7,198.4 H256.7 M250.7,221 H256.7 M265.06,209 V229.4 M262.06,209 H268.06 M262.06,229.4 H268.06 M276.42,212.4 V230.4 M273.42,212.4 H279.42 M273.42,230.4 H279.42" stroke="#111" stroke-width="1.15" fill="none"/><polyline points="117.38,173 128.74,188 140.1,180.6 151.46,196.6 162.82,195 174.18,198.6 185.54,202.5 196.9,207 208.26,203.6 219.62,219 230.98,213.6 242.34,222.6 253.7,209.6 265.06,219.4 276.42,221.6" fill="none" stroke="#000" stroke-width="1.1"/><circle cx="117.38" cy="173" r="3.3" fill="#000"/><circle cx="128.74" cy="188" r="3.3" fill="#000"/><circle cx="140.1" cy="180.6" r="3.3" fill="#000"/><circle cx="151.46" cy="196.6" r="3.3" fill="#000"/><circle cx="162.82" cy="195" r="3.3" fill="#000"/><circle cx="174.18" cy="198.6" r="3.3" fill="#000"/><circle cx="185.54" cy="202.5" r="3.3" fill="#000"/><circle cx="196.9" cy="207" r="3.3" fill="#000"/><circle cx="208.26" cy="203.6" r="3.3" fill="#000"/><circle cx="219.62" cy="219" r="3.3" fill="#000"/><circle cx="230.98" cy="213.6" r="3.3" fill="#000"/><circle cx="242.34" cy="222.6" r="3.3" fill="#000"/><circle cx="253.7" cy="209.6" r="3.3" fill="#000"/><circle cx="265.06" cy="219.4" r="3.3" fill="#000"/><circle cx="276.42" cy="221.6" r="3.3" fill="#000"/><text x="345.6" y="122.2" font-size="26.5" fill="#000">B</text><rect x="409.2" y="120.6" width="4" height="166" fill="#d9d9d9"/><path d="M404.9,119.5 V288.7" stroke="#000" stroke-width="2.1"/><text x="395.8" y="124.85" font-size="11.8" text-anchor="end" fill="#111">100</text><text x="395.8" y="158.25" font-size="11.8" text-anchor="end" fill="#111">80</text><text x="395.8" y="191.65" font-size="11.8" text-anchor="end" fill="#111">60</text><text x="395.8" y="225.05" font-size="11.8" text-anchor="end" fill="#111">40</text><text x="395.8" y="258.45" font-size="11.8" text-anchor="end" fill="#111">20</text><path d="M397.9,120.6 H404.9 M397.9,154 H404.9 M397.9,187.4 H404.9 M397.9,220.8 H404.9 M397.9,254.2 H404.9" stroke="#000" stroke-width="2.1"/><text transform="translate(367.7,204.1) rotate(-90)" font-size="11.8" text-anchor="middle" fill="#111">Freezing (%)</text><path d="M403.85,287.6 H417.2 M416.2,284.1 V291.4 M410.5,287.6 V294.6" stroke="#000" stroke-width="2.1" fill="none"/><path d="M428.3,284.1 V291.4 M428.3,287.6 H656.55" stroke="#000" stroke-width="2.1" fill="none"/><path d="M485.1,287.6 V294.6 M541.9,287.6 V294.6 M598.7,287.6 V294.6 M655.5,287.6 V294.6" stroke="#000" stroke-width="2.1"/><text x="410.5" y="308" font-size="11.8" text-anchor="middle" fill="#111">-15</text><path d="M410.1,325.1 V318.6" stroke="#000" stroke-width="1.7"/><path d="M410.1,313 l-3.05,7.1 h6.1 Z" fill="#000"/><text x="410.5" y="335.6" font-size="12" text-anchor="middle" fill="#111">CNO</text><text x="428.6" y="308" font-size="11.8" text-anchor="middle" fill="#111">0</text><text x="485.4" y="308" font-size="11.8" text-anchor="middle" fill="#111">5</text><text x="542.2" y="308" font-size="11.8" text-anchor="middle" fill="#111">10</text><text x="599" y="308" font-size="11.8" text-anchor="middle" fill="#111">15</text><text x="655.8" y="308" font-size="11.8" text-anchor="middle" fill="#111">20</text><text x="530.8" y="324.8" font-size="12" text-anchor="middle" fill="#111">Time (m)</text><text x="429.5" y="279" font-size="11.5" fill="#111">Day 1</text><circle cx="427.9" cy="130.1" r="8.15" fill="none" stroke="#111" stroke-width="1.3"/><path d="M427.9,138.9 L427.9,150 M422.3,144.4 L433.5,144.4" fill="none" stroke="#111" stroke-width="1.3"/><path d="M462,128.8 H621" stroke="#000" stroke-width="1.6"/><path d="M541.2,115.5 V121.9 M538.4,117.1 L544,120.3 M538.4,120.3 L544,117.1" stroke="#000" stroke-width="1.45"/><path d="M462.38,146 V160 M459.38,146 H465.38 M459.38,160 H465.38 M473.74,132.6 V139.6 M470.74,132.6 H476.74 M470.74,139.6 H476.74 M485.1,134.6 V148 M482.1,134.6 H488.1 M482.1,148 H488.1 M496.46,140.6 V155.6 M493.46,140.6 H499.46 M493.46,155.6 H499.46 M507.82,141 V154 M504.82,141 H510.82 M504.82,154 H510.82 M519.18,144 V155.6 M516.18,144 H522.18 M516.18,155.6 H522.18 M530.54,151.6 V168.6 M527.54,151.6 H533.54 M527.54,168.6 H533.54 M541.9,149.8 V163 M538.9,149.8 H544.9 M538.9,163 H544.9 M553.26,150.3 V166.8 M550.26,150.3 H556.26 M550.26,166.8 H556.26 M564.62,167.7 V186.8 M561.62,167.7 H567.62 M561.62,186.8 H567.62 M575.98,165.5 V190.6 M572.98,165.5 H578.98 M572.98,190.6 H578.98 M587.34,168.6 V193.6 M584.34,168.6 H590.34 M584.34,193.6 H590.34 M598.7,165.6 V190 M595.7,165.6 H601.7 M595.7,190 H601.7 M610.06,168 V189.6 M607.06,168 H613.06 M607.06,189.6 H613.06 M621.42,161.4 V186.4 M618.42,161.4 H624.42 M618.42,186.4 H624.42" stroke="#66da88" stroke-width="1.15" fill="none"/><circle cx="462.38" cy="152.6" r="3.05" fill="#fff"/><circle cx="473.74" cy="136" r="3.05" fill="#fff"/><circle cx="485.1" cy="141.4" r="3.05" fill="#fff"/><circle cx="496.46" cy="148" r="3.05" fill="#fff"/><circle cx="507.82" cy="147.4" r="3.05" fill="#fff"/><circle cx="519.18" cy="149.4" r="3.05" fill="#fff"/><circle cx="530.54" cy="160.2" r="3.05" fill="#fff"/><circle cx="541.9" cy="156.4" r="3.05" fill="#fff"/><circle cx="553.26" cy="158.5" r="3.05" fill="#fff"/><circle cx="564.62" cy="177.4" r="3.05" fill="#fff"/><circle cx="575.98" cy="178" r="3.05" fill="#fff"/><circle cx="587.34" cy="181" r="3.05" fill="#fff"/><circle cx="598.7" cy="178" r="3.05" fill="#fff"/><circle cx="610.06" cy="179" r="3.05" fill="#fff"/><circle cx="621.42" cy="174" r="3.05" fill="#fff"/><polyline points="462.38,152.6 473.74,136 485.1,141.4 496.46,148 507.82,147.4 519.18,149.4 530.54,160.2 541.9,156.4 553.26,158.5 564.62,177.4 575.98,178 587.34,181 598.7,178 610.06,179 621.42,174" fill="none" stroke="#66da88" stroke-width="1.1" stroke-dasharray="2.2,1.8"/><circle cx="462.38" cy="152.6" r="3.05" fill="none" stroke="#66da88" stroke-width="1.45"/><circle cx="473.74" cy="136" r="3.05" fill="none" stroke="#66da88" stroke-width="1.45"/><circle cx="485.1" cy="141.4" r="3.05" fill="none" stroke="#66da88" stroke-width="1.45"/><circle cx="496.46" cy="148" r="3.05" fill="none" stroke="#66da88" stroke-width="1.45"/><circle cx="507.82" cy="147.4" r="3.05" fill="none" stroke="#66da88" stroke-width="1.45"/><circle cx="519.18" cy="149.4" r="3.05" fill="none" stroke="#66da88" stroke-width="1.45"/><circle cx="530.54" cy="160.2" r="3.05" fill="none" stroke="#66da88" stroke-width="1.45"/><circle cx="541.9" cy="156.4" r="3.05" fill="none" stroke="#66da88" stroke-width="1.45"/><circle cx="553.26" cy="158.5" r="3.05" fill="none" stroke="#66da88" stroke-width="1.45"/><circle cx="564.62" cy="177.4" r="3.05" fill="none" stroke="#66da88" stroke-width="1.45"/><circle cx="575.98" cy="178" r="3.05" fill="none" stroke="#66da88" stroke-width="1.45"/><circle cx="587.34" cy="181" r="3.05" fill="none" stroke="#66da88" stroke-width="1.45"/><circle cx="598.7" cy="178" r="3.05" fill="none" stroke="#66da88" stroke-width="1.45"/><circle cx="610.06" cy="179" r="3.05" fill="none" stroke="#66da88" stroke-width="1.45"/><circle cx="621.42" cy="174" r="3.05" fill="none" stroke="#66da88" stroke-width="1.45"/><path d="M462.38,178.6 V197 M459.38,178.6 H465.38 M459.38,197 H465.38 M473.74,177.6 V202 M470.74,177.6 H476.74 M470.74,202 H476.74 M485.1,169.4 V190.4 M482.1,169.4 H488.1 M482.1,190.4 H488.1 M496.46,172.6 V199 M493.46,172.6 H499.46 M493.46,199 H499.46 M507.82,178.6 V205.6 M504.82,178.6 H510.82 M504.82,205.6 H510.82 M519.18,185.6 V206.6 M516.18,185.6 H522.18 M516.18,206.6 H522.18 M530.54,168.6 V186.6 M527.54,168.6 H533.54 M527.54,186.6 H533.54 M541.9,184.7 V205.6 M538.9,184.7 H544.9 M538.9,205.6 H544.9 M553.26,180.4 V200 M550.26,180.4 H556.26 M550.26,200 H556.26 M564.62,195.4 V218 M561.62,195.4 H567.62 M561.62,218 H567.62 M575.98,195.4 V220 M572.98,195.4 H578.98 M572.98,220 H578.98 M587.34,191.4 V211.6 M584.34,191.4 H590.34 M584.34,211.6 H590.34 M598.7,196 V216.4 M595.7,196 H601.7 M595.7,216.4 H601.7 M610.06,201.4 V221.4 M607.06,201.4 H613.06 M607.06,221.4 H613.06 M621.42,200.4 V211.4 M618.42,200.4 H624.42 M618.42,211.4 H624.42" stroke="#111" stroke-width="1.15" fill="none"/><circle cx="462.38" cy="188" r="3.05" fill="#fff"/><circle cx="473.74" cy="190" r="3.05" fill="#fff"/><circle cx="485.1" cy="180" r="3.05" fill="#fff"/><circle cx="496.46" cy="186" r="3.05" fill="#fff"/><circle cx="507.82" cy="192" r="3.05" fill="#fff"/><circle cx="519.18" cy="196" r="3.05" fill="#fff"/><circle cx="530.54" cy="177.7" r="3.05" fill="#fff"/><circle cx="541.9" cy="195.2" r="3.05" fill="#fff"/><circle cx="553.26" cy="190.2" r="3.05" fill="#fff"/><circle cx="564.62" cy="206.6" r="3.05" fill="#fff"/><circle cx="575.98" cy="207.6" r="3.05" fill="#fff"/><circle cx="587.34" cy="201" r="3.05" fill="#fff"/><circle cx="598.7" cy="206" r="3.05" fill="#fff"/><circle cx="610.06" cy="211.4" r="3.05" fill="#fff"/><circle cx="621.42" cy="205.6" r="3.05" fill="#fff"/><polyline points="462.38,188 473.74,190 485.1,180 496.46,186 507.82,192 519.18,196 530.54,177.7 541.9,195.2 553.26,190.2 564.62,206.6 575.98,207.6 587.34,201 598.7,206 610.06,211.4 621.42,205.6" fill="none" stroke="#000" stroke-width="1.1" stroke-dasharray="2.2,1.8"/><circle cx="462.38" cy="188" r="3.05" fill="none" stroke="#000" stroke-width="1.45"/><circle cx="473.74" cy="190" r="3.05" fill="none" stroke="#000" stroke-width="1.45"/><circle cx="485.1" cy="180" r="3.05" fill="none" stroke="#000" stroke-width="1.45"/><circle cx="496.46" cy="186" r="3.05" fill="none" stroke="#000" stroke-width="1.45"/><circle cx="507.82" cy="192" r="3.05" fill="none" stroke="#000" stroke-width="1.45"/><circle cx="519.18" cy="196" r="3.05" fill="none" stroke="#000" stroke-width="1.45"/><circle cx="530.54" cy="177.7" r="3.05" fill="none" stroke="#000" stroke-width="1.45"/><circle cx="541.9" cy="195.2" r="3.05" fill="none" stroke="#000" stroke-width="1.45"/><circle cx="553.26" cy="190.2" r="3.05" fill="none" stroke="#000" stroke-width="1.45"/><circle cx="564.62" cy="206.6" r="3.05" fill="none" stroke="#000" stroke-width="1.45"/><circle cx="575.98" cy="207.6" r="3.05" fill="none" stroke="#000" stroke-width="1.45"/><circle cx="587.34" cy="201" r="3.05" fill="none" stroke="#000" stroke-width="1.45"/><circle cx="598.7" cy="206" r="3.05" fill="none" stroke="#000" stroke-width="1.45"/><circle cx="610.06" cy="211.4" r="3.05" fill="none" stroke="#000" stroke-width="1.45"/><circle cx="621.42" cy="205.6" r="3.05" fill="none" stroke="#000" stroke-width="1.45"/><text x="1" y="364.6" font-size="26.5" fill="#000">C</text><path d="M59.6,361.9 V531.3" stroke="#000" stroke-width="2.1"/><text x="50.5" y="367.25" font-size="11.8" text-anchor="end" fill="#111">100</text><text x="50.5" y="400.69" font-size="11.8" text-anchor="end" fill="#111">80</text><text x="50.5" y="434.13" font-size="11.8" text-anchor="end" fill="#111">60</text><text x="50.5" y="467.57" font-size="11.8" text-anchor="end" fill="#111">40</text><text x="50.5" y="501.01" font-size="11.8" text-anchor="end" fill="#111">20</text><path d="M52.6,363 H59.6 M52.6,396.44 H59.6 M52.6,429.88 H59.6 M52.6,463.32 H59.6 M52.6,496.76 H59.6" stroke="#000" stroke-width="2.1"/><text transform="translate(22.4,446.6) rotate(-90)" font-size="11.8" text-anchor="middle" fill="#111">Freezing (%)</text><path d="M58.55,530.2 H311.05" stroke="#000" stroke-width="2.1"/><path d="M59.6,530.2 V537.2 M122.2,530.2 V537.2 M184.8,530.2 V537.2 M247.4,530.2 V537.2 M310,530.2 V537.2" stroke="#000" stroke-width="2.1"/><text x="59.9" y="550.6" font-size="11.8" text-anchor="middle" fill="#111">0</text><text x="122.5" y="550.6" font-size="11.8" text-anchor="middle" fill="#111">5</text><text x="185.1" y="550.6" font-size="11.8" text-anchor="middle" fill="#111">10</text><text x="247.7" y="550.6" font-size="11.8" text-anchor="middle" fill="#111">15</text><text x="310.3" y="550.6" font-size="11.8" text-anchor="middle" fill="#111">20</text><text x="185.4" y="567.4" font-size="12" text-anchor="middle" fill="#111">Time (m)</text><text x="66" y="522" font-size="12" fill="#111">Day 2-without CNO</text><circle cx="79.6" cy="382" r="8.05" fill="none" stroke="#111" stroke-width="1.3"/><path d="M85.3,376.3 L95.5,366.1 M85.7,365.8 L95.7,365.8 L95.7,376" fill="none" stroke="#111" stroke-width="1.4"/><path d="M97.16,414.4 V436.4 M94.16,414.4 H100.16 M94.16,436.4 H100.16 M109.68,400.4 V417.6 M106.68,400.4 H112.68 M106.68,417.6 H112.68 M122.2,416.4 V443 M119.2,416.4 H125.2 M119.2,443 H125.2 M134.72,431 V456.6 M131.72,431 H137.72 M131.72,456.6 H137.72 M147.24,431 V451.6 M144.24,431 H150.24 M144.24,451.6 H150.24 M159.76,432.6 V451 M156.76,432.6 H162.76 M156.76,451 H162.76 M172.28,432.6 V450 M169.28,432.6 H175.28 M169.28,450 H175.28 M184.8,422.4 V449 M181.8,422.4 H187.8 M181.8,449 H187.8 M197.32,427.6 V446.4 M194.32,427.6 H200.32 M194.32,446.4 H200.32 M209.84,429.6 V453 M206.84,429.6 H212.84 M206.84,453 H212.84 M222.36,432.6 V446.7 M219.36,432.6 H225.36 M219.36,446.7 H225.36 M234.88,422.6 V443 M231.88,422.6 H237.88 M231.88,443 H237.88 M247.4,431.4 V450 M244.4,431.4 H250.4 M244.4,450 H250.4 M259.92,431.4 V456 M256.92,431.4 H262.92 M256.92,456 H262.92 M272.44,426.4 V446.6 M269.44,426.4 H275.44 M269.44,446.6 H275.44" stroke="#66da88" stroke-width="1.15" fill="none"/><polyline points="97.16,425 109.68,409 122.2,429.6 134.72,443 147.24,442.6 159.76,442 172.28,441.6 184.8,435.6 197.32,436.6 209.84,441.2 222.36,439.7 234.88,433 247.4,441 259.92,443.6 272.44,436.6" fill="none" stroke="#66da88" stroke-width="1.1"/><circle cx="97.16" cy="425" r="3.3" fill="#66da88"/><circle cx="109.68" cy="409" r="3.3" fill="#66da88"/><circle cx="122.2" cy="429.6" r="3.3" fill="#66da88"/><circle cx="134.72" cy="443" r="3.3" fill="#66da88"/><circle cx="147.24" cy="442.6" r="3.3" fill="#66da88"/><circle cx="159.76" cy="442" r="3.3" fill="#66da88"/><circle cx="172.28" cy="441.6" r="3.3" fill="#66da88"/><circle cx="184.8" cy="435.6" r="3.3" fill="#66da88"/><circle cx="197.32" cy="436.6" r="3.3" fill="#66da88"/><circle cx="209.84" cy="441.2" r="3.3" fill="#66da88"/><circle cx="222.36" cy="439.7" r="3.3" fill="#66da88"/><circle cx="234.88" cy="433" r="3.3" fill="#66da88"/><circle cx="247.4" cy="441" r="3.3" fill="#66da88"/><circle cx="259.92" cy="443.6" r="3.3" fill="#66da88"/><circle cx="272.44" cy="436.6" r="3.3" fill="#66da88"/><path d="M97.16,420.4 V446.4 M94.16,420.4 H100.16 M94.16,446.4 H100.16 M109.68,426.4 V450 M106.68,426.4 H112.68 M106.68,450 H112.68 M122.2,442.6 V466.4 M119.2,442.6 H125.2 M119.2,466.4 H125.2 M134.72,431 V454.4 M131.72,431 H137.72 M131.72,454.4 H137.72 M147.24,430.6 V457.4 M144.24,430.6 H150.24 M144.24,457.4 H150.24 M159.76,440 V465 M156.76,440 H162.76 M156.76,465 H162.76 M172.28,457.4 V470.6 M169.28,457.4 H175.28 M169.28,470.6 H175.28 M184.8,439.4 V463.4 M181.8,439.4 H187.8 M181.8,463.4 H187.8 M197.32,439 V460.4 M194.32,439 H200.32 M194.32,460.4 H200.32 M209.84,434.5 V461 M206.84,434.5 H212.84 M206.84,461 H212.84 M222.36,440.3 V460.5 M219.36,440.3 H225.36 M219.36,460.5 H225.36 M234.88,453.6 V469 M231.88,453.6 H237.88 M231.88,469 H237.88 M247.4,448.4 V471 M244.4,448.4 H250.4 M244.4,471 H250.4 M259.92,431.4 V455.6 M256.92,431.4 H262.92 M256.92,455.6 H262.92 M272.44,432 V455 M269.44,432 H275.44 M269.44,455 H275.44" stroke="#111" stroke-width="1.15" fill="none"/><polyline points="97.16,433.4 109.68,438 122.2,454.6 134.72,443 147.24,443.6 159.76,452.6 172.28,464 184.8,451.4 197.32,449.6 209.84,447.6 222.36,450.3 234.88,461.4 247.4,459.6 259.92,443.4 272.44,443.6" fill="none" stroke="#000" stroke-width="1.1"/><circle cx="97.16" cy="433.4" r="3.3" fill="#000"/><circle cx="109.68" cy="438" r="3.3" fill="#000"/><circle cx="122.2" cy="454.6" r="3.3" fill="#000"/><circle cx="134.72" cy="443" r="3.3" fill="#000"/><circle cx="147.24" cy="443.6" r="3.3" fill="#000"/><circle cx="159.76" cy="452.6" r="3.3" fill="#000"/><circle cx="172.28" cy="464" r="3.3" fill="#000"/><circle cx="184.8" cy="451.4" r="3.3" fill="#000"/><circle cx="197.32" cy="449.6" r="3.3" fill="#000"/><circle cx="209.84" cy="447.6" r="3.3" fill="#000"/><circle cx="222.36" cy="450.3" r="3.3" fill="#000"/><circle cx="234.88" cy="461.4" r="3.3" fill="#000"/><circle cx="247.4" cy="459.6" r="3.3" fill="#000"/><circle cx="259.92" cy="443.4" r="3.3" fill="#000"/><circle cx="272.44" cy="443.6" r="3.3" fill="#000"/><line x1="246.8" y1="499" x2="264" y2="499" stroke="#000" stroke-width="1.1"/><circle cx="255.4" cy="499" r="3.2" fill="#000"/><text x="273.3" y="503.6" font-size="11" fill="#111">DRD<tspan font-size="7.5" dy="-4.3">-</tspan></text><line x1="246.8" y1="516.2" x2="264" y2="516.2" stroke="#66da88" stroke-width="1.1"/><circle cx="255.4" cy="516.2" r="3.2" fill="#66da88"/><text x="273.3" y="520.8" font-size="11" fill="#111">DRD<tspan font-size="7.5" dy="-4.3">+</tspan></text><text x="346.5" y="364.6" font-size="26.5" fill="#000">D</text><path d="M404.6,361.9 V531.3" stroke="#000" stroke-width="2.1"/><text x="395.5" y="367.25" font-size="11.8" text-anchor="end" fill="#111">100</text><text x="395.5" y="400.69" font-size="11.8" text-anchor="end" fill="#111">80</text><text x="395.5" y="434.13" font-size="11.8" text-anchor="end" fill="#111">60</text><text x="395.5" y="467.57" font-size="11.8" text-anchor="end" fill="#111">40</text><text x="395.5" y="501.01" font-size="11.8" text-anchor="end" fill="#111">20</text><path d="M397.6,363 H404.6 M397.6,396.44 H404.6 M397.6,429.88 H404.6 M397.6,463.32 H404.6 M397.6,496.76 H404.6" stroke="#000" stroke-width="2.1"/><text transform="translate(367.4,446.6) rotate(-90)" font-size="11.8" text-anchor="middle" fill="#111">Freezing (%)</text><path d="M403.55,530.2 H656.05" stroke="#000" stroke-width="2.1"/><path d="M404.6,530.2 V537.2 M467.2,530.2 V537.2 M529.8,530.2 V537.2 M592.4,530.2 V537.2 M655,530.2 V537.2" stroke="#000" stroke-width="2.1"/><text x="404.9" y="550.6" font-size="11.8" text-anchor="middle" fill="#111">0</text><text x="467.5" y="550.6" font-size="11.8" text-anchor="middle" fill="#111">5</text><text x="530.1" y="550.6" font-size="11.8" text-anchor="middle" fill="#111">10</text><text x="592.7" y="550.6" font-size="11.8" text-anchor="middle" fill="#111">15</text><text x="655.3" y="550.6" font-size="11.8" text-anchor="middle" fill="#111">20</text><text x="530.4" y="567.4" font-size="12" text-anchor="middle" fill="#111">Time (m)</text><text x="411" y="522" font-size="12" fill="#111">Day 2-without CNO</text><circle cx="427.6" cy="372.5" r="8.15" fill="none" stroke="#111" stroke-width="1.3"/><path d="M427.6,381.3 L427.6,392.4 M422,386.8 L433.2,386.8" fill="none" stroke="#111" stroke-width="1.3"/><path d="M442.16,402.6 V425 M439.16,402.6 H445.16 M439.16,425 H445.16 M454.68,420.4 V442.4 M451.68,420.4 H457.68 M451.68,442.4 H457.68 M467.2,415 V442 M464.2,415 H470.2 M464.2,442 H470.2 M479.72,443 V461.4 M476.72,443 H482.72 M476.72,461.4 H482.72 M492.24,437 V458.4 M489.24,437 H495.24 M489.24,458.4 H495.24 M504.76,447 V466 M501.76,447 H507.76 M501.76,466 H507.76 M517.28,449.6 V467.4 M514.28,449.6 H520.28 M514.28,467.4 H520.28 M529.8,435 V449.4 M526.8,435 H532.8 M526.8,449.4 H532.8 M542.32,441.6 V462 M539.32,441.6 H545.32 M539.32,462 H545.32 M554.84,448 V466 M551.84,448 H557.84 M551.84,466 H557.84 M567.36,442.4 V458.3 M564.36,442.4 H570.36 M564.36,458.3 H570.36 M579.88,446.4 V465 M576.88,446.4 H582.88 M576.88,465 H582.88 M592.4,446 V459 M589.4,446 H595.4 M589.4,459 H595.4 M604.92,432 V460 M601.92,432 H607.92 M601.92,460 H607.92 M617.44,419.4 V439.4 M614.44,419.4 H620.44 M614.44,439.4 H620.44" stroke="#66da88" stroke-width="1.15" fill="none"/><circle cx="442.16" cy="414" r="3.05" fill="#fff"/><circle cx="454.68" cy="431" r="3.05" fill="#fff"/><circle cx="467.2" cy="429" r="3.05" fill="#fff"/><circle cx="479.72" cy="452" r="3.05" fill="#fff"/><circle cx="492.24" cy="448.6" r="3.05" fill="#fff"/><circle cx="504.76" cy="456.6" r="3.05" fill="#fff"/><circle cx="517.28" cy="458.6" r="3.05" fill="#fff"/><circle cx="529.8" cy="442" r="3.05" fill="#fff"/><circle cx="542.32" cy="451.4" r="3.05" fill="#fff"/><circle cx="554.84" cy="456.8" r="3.05" fill="#fff"/><circle cx="567.36" cy="450.5" r="3.05" fill="#fff"/><circle cx="579.88" cy="455" r="3.05" fill="#fff"/><circle cx="592.4" cy="452.4" r="3.05" fill="#fff"/><circle cx="604.92" cy="445.6" r="3.05" fill="#fff"/><circle cx="617.44" cy="429.6" r="3.05" fill="#fff"/><polyline points="442.16,414 454.68,431 467.2,429 479.72,452 492.24,448.6 504.76,456.6 517.28,458.6 529.8,442 542.32,451.4 554.84,456.8 567.36,450.5 579.88,455 592.4,452.4 604.92,445.6 617.44,429.6" fill="none" stroke="#66da88" stroke-width="1.1" stroke-dasharray="2.2,1.8"/><circle cx="442.16" cy="414" r="3.05" fill="none" stroke="#66da88" stroke-width="1.45"/><circle cx="454.68" cy="431" r="3.05" fill="none" stroke="#66da88" stroke-width="1.45"/><circle cx="467.2" cy="429" r="3.05" fill="none" stroke="#66da88" stroke-width="1.45"/><circle cx="479.72" cy="452" r="3.05" fill="none" stroke="#66da88" stroke-width="1.45"/><circle cx="492.24" cy="448.6" r="3.05" fill="none" stroke="#66da88" stroke-width="1.45"/><circle cx="504.76" cy="456.6" r="3.05" fill="none" stroke="#66da88" stroke-width="1.45"/><circle cx="517.28" cy="458.6" r="3.05" fill="none" stroke="#66da88" stroke-width="1.45"/><circle cx="529.8" cy="442" r="3.05" fill="none" stroke="#66da88" stroke-width="1.45"/><circle cx="542.32" cy="451.4" r="3.05" fill="none" stroke="#66da88" stroke-width="1.45"/><circle cx="554.84" cy="456.8" r="3.05" fill="none" stroke="#66da88" stroke-width="1.45"/><circle cx="567.36" cy="450.5" r="3.05" fill="none" stroke="#66da88" stroke-width="1.45"/><circle cx="579.88" cy="455" r="3.05" fill="none" stroke="#66da88" stroke-width="1.45"/><circle cx="592.4" cy="452.4" r="3.05" fill="none" stroke="#66da88" stroke-width="1.45"/><circle cx="604.92" cy="445.6" r="3.05" fill="none" stroke="#66da88" stroke-width="1.45"/><circle cx="617.44" cy="429.6" r="3.05" fill="none" stroke="#66da88" stroke-width="1.45"/><path d="M442.16,433.4 V454 M439.16,433.4 H445.16 M439.16,454 H445.16 M454.68,417.6 V450 M451.68,417.6 H457.68 M451.68,450 H457.68 M467.2,431 V455 M464.2,431 H470.2 M464.2,455 H470.2 M479.72,429.6 V455.4 M476.72,429.6 H482.72 M476.72,455.4 H482.72 M492.24,435.4 V455.6 M489.24,435.4 H495.24 M489.24,455.6 H495.24 M504.76,435.6 V459 M501.76,435.6 H507.76 M501.76,459 H507.76 M517.28,436 V459.6 M514.28,436 H520.28 M514.28,459.6 H520.28 M529.8,419.6 V441 M526.8,419.6 H532.8 M526.8,441 H532.8 M542.32,423.6 V448 M539.32,423.6 H545.32 M539.32,448 H545.32 M554.84,439.6 V460.2 M551.84,439.6 H557.84 M551.84,460.2 H557.84 M567.36,447 V465 M564.36,447 H570.36 M564.36,465 H570.36 M579.88,439.4 V456.6 M576.88,439.4 H582.88 M576.88,456.6 H582.88 M592.4,438.4 V457.6 M589.4,438.4 H595.4 M589.4,457.6 H595.4 M604.92,414.6 V442 M601.92,414.6 H607.92 M601.92,442 H607.92 M617.44,450.4 V475 M614.44,450.4 H620.44 M614.44,475 H620.44" stroke="#111" stroke-width="1.15" fill="none"/><circle cx="442.16" cy="444" r="3.05" fill="#fff"/><circle cx="454.68" cy="433.6" r="3.05" fill="#fff"/><circle cx="467.2" cy="443" r="3.05" fill="#fff"/><circle cx="479.72" cy="442.4" r="3.05" fill="#fff"/><circle cx="492.24" cy="445.6" r="3.05" fill="#fff"/><circle cx="504.76" cy="447.4" r="3.05" fill="#fff"/><circle cx="517.28" cy="448" r="3.05" fill="#fff"/><circle cx="529.8" cy="430.4" r="3.05" fill="#fff"/><circle cx="542.32" cy="436" r="3.05" fill="#fff"/><circle cx="554.84" cy="450.4" r="3.05" fill="#fff"/><circle cx="567.36" cy="456" r="3.05" fill="#fff"/><circle cx="579.88" cy="448" r="3.05" fill="#fff"/><circle cx="592.4" cy="448" r="3.05" fill="#fff"/><circle cx="604.92" cy="428.4" r="3.05" fill="#fff"/><circle cx="617.44" cy="462.4" r="3.05" fill="#fff"/><polyline points="442.16,444 454.68,433.6 467.2,443 479.72,442.4 492.24,445.6 504.76,447.4 517.28,448 529.8,430.4 542.32,436 554.84,450.4 567.36,456 579.88,448 592.4,448 604.92,428.4 617.44,462.4" fill="none" stroke="#000" stroke-width="1.1" stroke-dasharray="2.2,1.8"/><circle cx="442.16" cy="444" r="3.05" fill="none" stroke="#000" stroke-width="1.45"/><circle cx="454.68" cy="433.6" r="3.05" fill="none" stroke="#000" stroke-width="1.45"/><circle cx="467.2" cy="443" r="3.05" fill="none" stroke="#000" stroke-width="1.45"/><circle cx="479.72" cy="442.4" r="3.05" fill="none" stroke="#000" stroke-width="1.45"/><circle cx="492.24" cy="445.6" r="3.05" fill="none" stroke="#000" stroke-width="1.45"/><circle cx="504.76" cy="447.4" r="3.05" fill="none" stroke="#000" stroke-width="1.45"/><circle cx="517.28" cy="448" r="3.05" fill="none" stroke="#000" stroke-width="1.45"/><circle cx="529.8" cy="430.4" r="3.05" fill="none" stroke="#000" stroke-width="1.45"/><circle cx="542.32" cy="436" r="3.05" fill="none" stroke="#000" stroke-width="1.45"/><circle cx="554.84" cy="450.4" r="3.05" fill="none" stroke="#000" stroke-width="1.45"/><circle cx="567.36" cy="456" r="3.05" fill="none" stroke="#000" stroke-width="1.45"/><circle cx="579.88" cy="448" r="3.05" fill="none" stroke="#000" stroke-width="1.45"/><circle cx="592.4" cy="448" r="3.05" fill="none" stroke="#000" stroke-width="1.45"/><circle cx="604.92" cy="428.4" r="3.05" fill="none" stroke="#000" stroke-width="1.45"/><circle cx="617.44" cy="462.4" r="3.05" fill="none" stroke="#000" stroke-width="1.45"/><line x1="592.4" y1="499.6" x2="609.6" y2="499.6" stroke="#000" stroke-width="1.1" stroke-dasharray="2,1.8"/><circle cx="601" cy="499.6" r="3.05" fill="#fff" stroke="#000" stroke-width="1.45"/><text x="619.2" y="504.2" font-size="11" fill="#111">DRD<tspan font-size="7.5" dy="-4.3">-</tspan></text><line x1="592.4" y1="516.8" x2="609.6" y2="516.8" stroke="#66da88" stroke-width="1.1" stroke-dasharray="2,1.8"/><circle cx="601" cy="516.8" r="3.05" fill="#fff" stroke="#66da88" stroke-width="1.45"/><text x="619.2" y="521.4" font-size="11" fill="#111">DRD<tspan font-size="7.5" dy="-4.3">+</tspan></text><text x="1" y="728" font-size="26.5" fill="#000">E</text><rect x="64.2" y="726.4" width="4" height="165.9" fill="#d9d9d9"/><path d="M59.9,725.3 V894.4" stroke="#000" stroke-width="2.1"/><text x="50.8" y="730.65" font-size="11.8" text-anchor="end" fill="#111">100</text><text x="50.8" y="764.03" font-size="11.8" text-anchor="end" fill="#111">80</text><text x="50.8" y="797.41" font-size="11.8" text-anchor="end" fill="#111">60</text><text x="50.8" y="830.79" font-size="11.8" text-anchor="end" fill="#111">40</text><text x="50.8" y="864.17" font-size="11.8" text-anchor="end" fill="#111">20</text><path d="M52.9,726.4 H59.9 M52.9,759.78 H59.9 M52.9,793.16 H59.9 M52.9,826.54 H59.9 M52.9,859.92 H59.9" stroke="#000" stroke-width="2.1"/><text transform="translate(22.7,809.85) rotate(-90)" font-size="11.8" text-anchor="middle" fill="#111">Freezing (%)</text><path d="M58.85,893.3 H72.2 M71.2,889.8 V897.1 M65.5,893.3 V900.3" stroke="#000" stroke-width="2.1" fill="none"/><path d="M83.3,889.8 V897.1 M83.3,893.3 H311.55" stroke="#000" stroke-width="2.1" fill="none"/><path d="M140.1,893.3 V900.3 M196.9,893.3 V900.3 M253.7,893.3 V900.3 M310.5,893.3 V900.3" stroke="#000" stroke-width="2.1"/><text x="65.5" y="913.7" font-size="11.8" text-anchor="middle" fill="#111">-15</text><path d="M65.1,930.8 V924.3" stroke="#000" stroke-width="1.7"/><path d="M65.1,918.7 l-3.05,7.1 h6.1 Z" fill="#000"/><text x="65.5" y="941.3" font-size="12" text-anchor="middle" fill="#111">CNO</text><text x="83.6" y="913.7" font-size="11.8" text-anchor="middle" fill="#111">0</text><text x="140.4" y="913.7" font-size="11.8" text-anchor="middle" fill="#111">5</text><text x="197.2" y="913.7" font-size="11.8" text-anchor="middle" fill="#111">10</text><text x="254" y="913.7" font-size="11.8" text-anchor="middle" fill="#111">15</text><text x="310.8" y="913.7" font-size="11.8" text-anchor="middle" fill="#111">20</text><text x="185.8" y="930.5" font-size="12" text-anchor="middle" fill="#111">Time (m)</text><text x="84.5" y="884.7" font-size="11.5" fill="#111">Day 1</text><circle cx="79.9" cy="745.4" r="8.05" fill="none" stroke="#111" stroke-width="1.3"/><path d="M85.6,739.7 L95.8,729.5 M86,729.2 L96,729.2 L96,739.4" fill="none" stroke="#111" stroke-width="1.4"/><path d="M117.38,750.4 V772 M114.38,750.4 H120.38 M114.38,772 H120.38 M128.74,748 V769.4 M125.74,748 H131.74 M125.74,769.4 H131.74 M140.1,749.4 V771 M137.1,749.4 H143.1 M137.1,771 H143.1 M151.46,756.4 V784.4 M148.46,756.4 H154.46 M148.46,784.4 H154.46 M162.82,776 V800 M159.82,776 H165.82 M159.82,800 H165.82 M174.18,773.6 V797.6 M171.18,773.6 H177.18 M171.18,797.6 H177.18 M185.54,780.6 V806 M182.54,780.6 H188.54 M182.54,806 H188.54 M196.9,774.4 V802 M193.9,774.4 H199.9 M193.9,802 H199.9 M208.26,795.8 V820.8 M205.26,795.8 H211.26 M205.26,820.8 H211.26 M219.62,793.6 V812 M216.62,793.6 H222.62 M216.62,812 H222.62 M230.98,793.6 V820 M227.98,793.6 H233.98 M227.98,820 H233.98 M242.34,797.6 V820.6 M239.34,797.6 H245.34 M239.34,820.6 H245.34 M253.7,794.4 V817 M250.7,794.4 H256.7 M250.7,817 H256.7 M265.06,799.6 V823 M262.06,799.6 H268.06 M262.06,823 H268.06 M276.42,784.4 V805 M273.42,784.4 H279.42 M273.42,805 H279.42" stroke="#222" stroke-width="1.15" fill="none"/><polyline points="117.38,761 128.74,758.6 140.1,759.6 151.46,770.6 162.82,788.6 174.18,785.4 185.54,793.8 196.9,788.2 208.26,808.6 219.62,803 230.98,807 242.34,809.4 253.7,806 265.06,811.4 276.42,795" fill="none" stroke="#9a50d6" stroke-width="1.1"/><circle cx="117.38" cy="761" r="3.3" fill="#9a50d6"/><circle cx="128.74" cy="758.6" r="3.3" fill="#9a50d6"/><circle cx="140.1" cy="759.6" r="3.3" fill="#9a50d6"/><circle cx="151.46" cy="770.6" r="3.3" fill="#9a50d6"/><circle cx="162.82" cy="788.6" r="3.3" fill="#9a50d6"/><circle cx="174.18" cy="785.4" r="3.3" fill="#9a50d6"/><circle cx="185.54" cy="793.8" r="3.3" fill="#9a50d6"/><circle cx="196.9" cy="788.2" r="3.3" fill="#9a50d6"/><circle cx="208.26" cy="808.6" r="3.3" fill="#9a50d6"/><circle cx="219.62" cy="803" r="3.3" fill="#9a50d6"/><circle cx="230.98" cy="807" r="3.3" fill="#9a50d6"/><circle cx="242.34" cy="809.4" r="3.3" fill="#9a50d6"/><circle cx="253.7" cy="806" r="3.3" fill="#9a50d6"/><circle cx="265.06" cy="811.4" r="3.3" fill="#9a50d6"/><circle cx="276.42" cy="795" r="3.3" fill="#9a50d6"/><path d="M117.38,785 V817 M114.38,785 H120.38 M114.38,817 H120.38 M128.74,775 V810.4 M125.74,775 H131.74 M125.74,810.4 H131.74 M140.1,792 V832.4 M137.1,792 H143.1 M137.1,832.4 H143.1 M151.46,785 V818 M148.46,785 H154.46 M148.46,818 H154.46 M162.82,798 V826.4 M159.82,798 H165.82 M159.82,826.4 H165.82 M174.18,802 V831.6 M171.18,802 H177.18 M171.18,831.6 H177.18 M185.54,805.5 V832.2 M182.54,805.5 H188.54 M182.54,832.2 H188.54 M196.9,828.4 V849.6 M193.9,828.4 H199.9 M193.9,849.6 H199.9 M208.26,831.6 V847 M205.26,831.6 H211.26 M205.26,847 H211.26 M219.62,805 V829.6 M216.62,805 H222.62 M216.62,829.6 H222.62 M230.98,829 V851 M227.98,829 H233.98 M227.98,851 H233.98 M242.34,826.4 V839.4 M239.34,826.4 H245.34 M239.34,839.4 H245.34 M253.7,810 V832.4 M250.7,810 H256.7 M250.7,832.4 H256.7 M265.06,815 V835 M262.06,815 H268.06 M262.06,835 H268.06 M276.42,812.4 V839 M273.42,812.4 H279.42 M273.42,839 H279.42" stroke="#111" stroke-width="1.15" fill="none"/><polyline points="117.38,801.4 128.74,792.6 140.1,812 151.46,801.6 162.82,809 174.18,816.6 185.54,818.4 196.9,839.4 208.26,839.4 219.62,817 230.98,840 242.34,833 253.7,821 265.06,825 276.42,825.6" fill="none" stroke="#000" stroke-width="1.1"/><circle cx="117.38" cy="801.4" r="3.3" fill="#000"/><circle cx="128.74" cy="792.6" r="3.3" fill="#000"/><circle cx="140.1" cy="812" r="3.3" fill="#000"/><circle cx="151.46" cy="801.6" r="3.3" fill="#000"/><circle cx="162.82" cy="809" r="3.3" fill="#000"/><circle cx="174.18" cy="816.6" r="3.3" fill="#000"/><circle cx="185.54" cy="818.4" r="3.3" fill="#000"/><circle cx="196.9" cy="839.4" r="3.3" fill="#000"/><circle cx="208.26" cy="839.4" r="3.3" fill="#000"/><circle cx="219.62" cy="817" r="3.3" fill="#000"/><circle cx="230.98" cy="840" r="3.3" fill="#000"/><circle cx="242.34" cy="833" r="3.3" fill="#000"/><circle cx="253.7" cy="821" r="3.3" fill="#000"/><circle cx="265.06" cy="825" r="3.3" fill="#000"/><circle cx="276.42" cy="825.6" r="3.3" fill="#000"/><text x="346" y="728" font-size="26.5" fill="#000">F</text><rect x="409.2" y="726.4" width="4" height="165.9" fill="#d9d9d9"/><path d="M404.9,725.3 V894.4" stroke="#000" stroke-width="2.1"/><text x="395.8" y="730.65" font-size="11.8" text-anchor="end" fill="#111">100</text><text x="395.8" y="764.03" font-size="11.8" text-anchor="end" fill="#111">80</text><text x="395.8" y="797.41" font-size="11.8" text-anchor="end" fill="#111">60</text><text x="395.8" y="830.79" font-size="11.8" text-anchor="end" fill="#111">40</text><text x="395.8" y="864.17" font-size="11.8" text-anchor="end" fill="#111">20</text><path d="M397.9,726.4 H404.9 M397.9,759.78 H404.9 M397.9,793.16 H404.9 M397.9,826.54 H404.9 M397.9,859.92 H404.9" stroke="#000" stroke-width="2.1"/><text transform="translate(367.7,809.85) rotate(-90)" font-size="11.8" text-anchor="middle" fill="#111">Freezing (%)</text><path d="M403.85,893.3 H417.2 M416.2,889.8 V897.1 M410.5,893.3 V900.3" stroke="#000" stroke-width="2.1" fill="none"/><path d="M428.3,889.8 V897.1 M428.3,893.3 H656.55" stroke="#000" stroke-width="2.1" fill="none"/><path d="M485.1,893.3 V900.3 M541.9,893.3 V900.3 M598.7,893.3 V900.3 M655.5,893.3 V900.3" stroke="#000" stroke-width="2.1"/><text x="410.5" y="913.7" font-size="11.8" text-anchor="middle" fill="#111">-15</text><path d="M410.1,930.8 V924.3" stroke="#000" stroke-width="1.7"/><path d="M410.1,918.7 l-3.05,7.1 h6.1 Z" fill="#000"/><text x="410.5" y="941.3" font-size="12" text-anchor="middle" fill="#111">CNO</text><text x="428.6" y="913.7" font-size="11.8" text-anchor="middle" fill="#111">0</text><text x="485.4" y="913.7" font-size="11.8" text-anchor="middle" fill="#111">5</text><text x="542.2" y="913.7" font-size="11.8" text-anchor="middle" fill="#111">10</text><text x="599" y="913.7" font-size="11.8" text-anchor="middle" fill="#111">15</text><text x="655.8" y="913.7" font-size="11.8" text-anchor="middle" fill="#111">20</text><text x="530.8" y="930.5" font-size="12" text-anchor="middle" fill="#111">Time (m)</text><text x="429.5" y="884.7" font-size="11.5" fill="#111">Day 1</text><circle cx="427.9" cy="735.9" r="8.15" fill="none" stroke="#111" stroke-width="1.3"/><path d="M427.9,744.7 L427.9,755.8 M422.3,750.2 L433.5,750.2" fill="none" stroke="#111" stroke-width="1.3"/><path d="M462.38,739.4 V767.4 M459.38,739.4 H465.38 M459.38,767.4 H465.38 M473.74,743.6 V781.6 M470.74,743.6 H476.74 M470.74,781.6 H476.74 M485.1,742.4 V781.6 M482.1,742.4 H488.1 M482.1,781.6 H488.1 M496.46,747.4 V784 M493.46,747.4 H499.46 M493.46,784 H499.46 M507.82,752 V801.4 M504.82,752 H510.82 M504.82,801.4 H510.82 M519.18,759.4 V792 M516.18,759.4 H522.18 M516.18,792 H522.18 M530.54,768.6 V796 M527.54,768.6 H533.54 M527.54,796 H533.54 M541.9,775 V796 M538.9,775 H544.9 M538.9,796 H544.9 M553.26,769.5 V801.2 M550.26,769.5 H556.26 M550.26,801.2 H556.26 M564.62,770.3 V794.4 M561.62,770.3 H567.62 M561.62,794.4 H567.62 M575.98,767.2 V791.4 M572.98,767.2 H578.98 M572.98,791.4 H578.98 M587.34,774.4 V797.4 M584.34,774.4 H590.34 M584.34,797.4 H590.34 M598.7,784.6 V805.6 M595.7,784.6 H601.7 M595.7,805.6 H601.7 M610.06,781.4 V802.6 M607.06,781.4 H613.06 M607.06,802.6 H613.06 M621.42,788 V821 M618.42,788 H624.42 M618.42,821 H624.42" stroke="#222" stroke-width="1.15" fill="none"/><circle cx="462.38" cy="753.6" r="3.05" fill="#fff"/><circle cx="473.74" cy="762.4" r="3.05" fill="#fff"/><circle cx="485.1" cy="762" r="3.05" fill="#fff"/><circle cx="496.46" cy="765.6" r="3.05" fill="#fff"/><circle cx="507.82" cy="776.6" r="3.05" fill="#fff"/><circle cx="519.18" cy="775.6" r="3.05" fill="#fff"/><circle cx="530.54" cy="782.2" r="3.05" fill="#fff"/><circle cx="541.9" cy="785.6" r="3.05" fill="#fff"/><circle cx="553.26" cy="785.6" r="3.05" fill="#fff"/><circle cx="564.62" cy="782.2" r="3.05" fill="#fff"/><circle cx="575.98" cy="779.2" r="3.05" fill="#fff"/><circle cx="587.34" cy="786" r="3.05" fill="#fff"/><circle cx="598.7" cy="795.6" r="3.05" fill="#fff"/><circle cx="610.06" cy="792" r="3.05" fill="#fff"/><circle cx="621.42" cy="804.6" r="3.05" fill="#fff"/><polyline points="462.38,753.6 473.74,762.4 485.1,762 496.46,765.6 507.82,776.6 519.18,775.6 530.54,782.2 541.9,785.6 553.26,785.6 564.62,782.2 575.98,779.2 587.34,786 598.7,795.6 610.06,792 621.42,804.6" fill="none" stroke="#9a50d6" stroke-width="1.1"/><circle cx="462.38" cy="753.6" r="3.05" fill="none" stroke="#9a50d6" stroke-width="1.45"/><circle cx="473.74" cy="762.4" r="3.05" fill="none" stroke="#9a50d6" stroke-width="1.45"/><circle cx="485.1" cy="762" r="3.05" fill="none" stroke="#9a50d6" stroke-width="1.45"/><circle cx="496.46" cy="765.6" r="3.05" fill="none" stroke="#9a50d6" stroke-width="1.45"/><circle cx="507.82" cy="776.6" r="3.05" fill="none" stroke="#9a50d6" stroke-width="1.45"/><circle cx="519.18" cy="775.6" r="3.05" fill="none" stroke="#9a50d6" stroke-width="1.45"/><circle cx="530.54" cy="782.2" r="3.05" fill="none" stroke="#9a50d6" stroke-width="1.45"/><circle cx="541.9" cy="785.6" r="3.05" fill="none" stroke="#9a50d6" stroke-width="1.45"/><circle cx="553.26" cy="785.6" r="3.05" fill="none" stroke="#9a50d6" stroke-width="1.45"/><circle cx="564.62" cy="782.2" r="3.05" fill="none" stroke="#9a50d6" stroke-width="1.45"/><circle cx="575.98" cy="779.2" r="3.05" fill="none" stroke="#9a50d6" stroke-width="1.45"/><circle cx="587.34" cy="786" r="3.05" fill="none" stroke="#9a50d6" stroke-width="1.45"/><circle cx="598.7" cy="795.6" r="3.05" fill="none" stroke="#9a50d6" stroke-width="1.45"/><circle cx="610.06" cy="792" r="3.05" fill="none" stroke="#9a50d6" stroke-width="1.45"/><circle cx="621.42" cy="804.6" r="3.05" fill="none" stroke="#9a50d6" stroke-width="1.45"/><path d="M462.38,794.6 V822.4 M459.38,794.6 H465.38 M459.38,822.4 H465.38 M473.74,791.4 V826 M470.74,791.4 H476.74 M470.74,826 H476.74 M485.1,785.6 V826.6 M482.1,785.6 H488.1 M482.1,826.6 H488.1 M496.46,791 V832.4 M493.46,791 H499.46 M493.46,832.4 H499.46 M507.82,791.6 V832.4 M504.82,791.6 H510.82 M504.82,832.4 H510.82 M519.18,789 V825.6 M516.18,789 H522.18 M516.18,825.6 H522.18 M530.54,800 V834 M527.54,800 H533.54 M527.54,834 H533.54 M541.9,783.6 V818.4 M538.9,783.6 H544.9 M538.9,818.4 H544.9 M553.26,811.5 V845 M550.26,811.5 H556.26 M550.26,845 H556.26 M564.62,809.4 V838.7 M561.62,809.4 H567.62 M561.62,838.7 H567.62 M575.98,810.4 V846 M572.98,810.4 H578.98 M572.98,846 H578.98 M587.34,797.4 V832.4 M584.34,797.4 H590.34 M584.34,832.4 H590.34 M598.7,794 V831 M595.7,794 H601.7 M595.7,831 H601.7 M610.06,798 V829.6 M607.06,798 H613.06 M607.06,829.6 H613.06 M621.42,808 V842.4 M618.42,808 H624.42 M618.42,842.4 H624.42" stroke="#111" stroke-width="1.15" fill="none"/><circle cx="462.38" cy="808.6" r="3.05" fill="#fff"/><circle cx="473.74" cy="809" r="3.05" fill="#fff"/><circle cx="485.1" cy="806.4" r="3.05" fill="#fff"/><circle cx="496.46" cy="811.6" r="3.05" fill="#fff"/><circle cx="507.82" cy="812" r="3.05" fill="#fff"/><circle cx="519.18" cy="808" r="3.05" fill="#fff"/><circle cx="530.54" cy="817" r="3.05" fill="#fff"/><circle cx="541.9" cy="801.4" r="3.05" fill="#fff"/><circle cx="553.26" cy="828" r="3.05" fill="#fff"/><circle cx="564.62" cy="823.6" r="3.05" fill="#fff"/><circle cx="575.98" cy="828" r="3.05" fill="#fff"/><circle cx="587.34" cy="814.6" r="3.05" fill="#fff"/><circle cx="598.7" cy="812.6" r="3.05" fill="#fff"/><circle cx="610.06" cy="813.6" r="3.05" fill="#fff"/><circle cx="621.42" cy="825.4" r="3.05" fill="#fff"/><polyline points="462.38,808.6 473.74,809 485.1,806.4 496.46,811.6 507.82,812 519.18,808 530.54,817 541.9,801.4 553.26,828 564.62,823.6 575.98,828 587.34,814.6 598.7,812.6 610.06,813.6 621.42,825.4" fill="none" stroke="#000" stroke-width="1.1"/><circle cx="462.38" cy="808.6" r="3.05" fill="none" stroke="#000" stroke-width="1.45"/><circle cx="473.74" cy="809" r="3.05" fill="none" stroke="#000" stroke-width="1.45"/><circle cx="485.1" cy="806.4" r="3.05" fill="none" stroke="#000" stroke-width="1.45"/><circle cx="496.46" cy="811.6" r="3.05" fill="none" stroke="#000" stroke-width="1.45"/><circle cx="507.82" cy="812" r="3.05" fill="none" stroke="#000" stroke-width="1.45"/><circle cx="519.18" cy="808" r="3.05" fill="none" stroke="#000" stroke-width="1.45"/><circle cx="530.54" cy="817" r="3.05" fill="none" stroke="#000" stroke-width="1.45"/><circle cx="541.9" cy="801.4" r="3.05" fill="none" stroke="#000" stroke-width="1.45"/><circle cx="553.26" cy="828" r="3.05" fill="none" stroke="#000" stroke-width="1.45"/><circle cx="564.62" cy="823.6" r="3.05" fill="none" stroke="#000" stroke-width="1.45"/><circle cx="575.98" cy="828" r="3.05" fill="none" stroke="#000" stroke-width="1.45"/><circle cx="587.34" cy="814.6" r="3.05" fill="none" stroke="#000" stroke-width="1.45"/><circle cx="598.7" cy="812.6" r="3.05" fill="none" stroke="#000" stroke-width="1.45"/><circle cx="610.06" cy="813.6" r="3.05" fill="none" stroke="#000" stroke-width="1.45"/><circle cx="621.42" cy="825.4" r="3.05" fill="none" stroke="#000" stroke-width="1.45"/><text x="1" y="963" font-size="26.5" fill="#000">G</text><path d="M59.6,960.3 V1129.7" stroke="#000" stroke-width="2.1"/><text x="50.5" y="965.65" font-size="11.8" text-anchor="end" fill="#111">100</text><text x="50.5" y="999.09" font-size="11.8" text-anchor="end" fill="#111">80</text><text x="50.5" y="1032.53" font-size="11.8" text-anchor="end" fill="#111">60</text><text x="50.5" y="1065.97" font-size="11.8" text-anchor="end" fill="#111">40</text><text x="50.5" y="1099.41" font-size="11.8" text-anchor="end" fill="#111">20</text><path d="M52.6,961.4 H59.6 M52.6,994.84 H59.6 M52.6,1028.28 H59.6 M52.6,1061.72 H59.6 M52.6,1095.16 H59.6" stroke="#000" stroke-width="2.1"/><text transform="translate(22.4,1045) rotate(-90)" font-size="11.8" text-anchor="middle" fill="#111">Freezing (%)</text><path d="M58.55,1128.6 H311.05" stroke="#000" stroke-width="2.1"/><path d="M59.6,1128.6 V1135.6 M122.2,1128.6 V1135.6 M184.8,1128.6 V1135.6 M247.4,1128.6 V1135.6 M310,1128.6 V1135.6" stroke="#000" stroke-width="2.1"/><text x="59.9" y="1149" font-size="11.8" text-anchor="middle" fill="#111">0</text><text x="122.5" y="1149" font-size="11.8" text-anchor="middle" fill="#111">5</text><text x="185.1" y="1149" font-size="11.8" text-anchor="middle" fill="#111">10</text><text x="247.7" y="1149" font-size="11.8" text-anchor="middle" fill="#111">15</text><text x="310.3" y="1149" font-size="11.8" text-anchor="middle" fill="#111">20</text><text x="185.4" y="1165.8" font-size="12" text-anchor="middle" fill="#111">Time (m)</text><text x="66" y="1120.4" font-size="12" fill="#111">Day 2-without CNO</text><circle cx="79.6" cy="980.4" r="8.05" fill="none" stroke="#111" stroke-width="1.3"/><path d="M85.3,974.7 L95.5,964.5 M85.7,964.2 L95.7,964.2 L95.7,974.4" fill="none" stroke="#111" stroke-width="1.4"/><path d="M96,985.7 H263" stroke="#000" stroke-width="1.6"/><path d="M179.2,972.3 V978.7 M176.4,973.9 L182,977.1 M176.4,977.1 L182,973.9" stroke="#000" stroke-width="1.45"/><path d="M97.16,998.4 V1019.4 M94.16,998.4 H100.16 M94.16,1019.4 H100.16 M109.68,1004 V1021 M106.68,1004 H112.68 M106.68,1021 H112.68 M122.2,1019.4 V1038 M119.2,1019.4 H125.2 M119.2,1038 H125.2 M134.72,1015.4 V1043.6 M131.72,1015.4 H137.72 M131.72,1043.6 H137.72 M147.24,1006.4 V1027.4 M144.24,1006.4 H150.24 M144.24,1027.4 H150.24 M159.76,1021 V1045 M156.76,1021 H162.76 M156.76,1045 H162.76 M172.28,1021.4 V1048.4 M169.28,1021.4 H175.28 M169.28,1048.4 H175.28 M184.8,1020.4 V1044 M181.8,1020.4 H187.8 M181.8,1044 H187.8 M197.32,1028 V1050.6 M194.32,1028 H200.32 M194.32,1050.6 H200.32 M209.84,1034.4 V1064 M206.84,1034.4 H212.84 M206.84,1064 H212.84 M222.36,1023.6 V1042.7 M219.36,1023.6 H225.36 M219.36,1042.7 H225.36 M234.88,1027.4 V1042 M231.88,1027.4 H237.88 M231.88,1042 H237.88 M247.4,1024.4 V1047 M244.4,1024.4 H250.4 M244.4,1047 H250.4 M259.92,1012.4 V1038 M256.92,1012.4 H262.92 M256.92,1038 H262.92 M272.44,1007.6 V1022.4 M269.44,1007.6 H275.44 M269.44,1022.4 H275.44" stroke="#8c60b9" stroke-width="1.15" fill="none"/><polyline points="97.16,1009 109.68,1012.6 122.2,1028.6 134.72,1029.6 147.24,1016.6 159.76,1033 172.28,1035 184.8,1032 197.32,1039.6 209.84,1049.8 222.36,1033.2 234.88,1034.6 247.4,1035.6 259.92,1025 272.44,1015.4" fill="none" stroke="#8757b8" stroke-width="1.1"/><circle cx="97.16" cy="1009" r="3.3" fill="#8757b8"/><circle cx="109.68" cy="1012.6" r="3.3" fill="#8757b8"/><circle cx="122.2" cy="1028.6" r="3.3" fill="#8757b8"/><circle cx="134.72" cy="1029.6" r="3.3" fill="#8757b8"/><circle cx="147.24" cy="1016.6" r="3.3" fill="#8757b8"/><circle cx="159.76" cy="1033" r="3.3" fill="#8757b8"/><circle cx="172.28" cy="1035" r="3.3" fill="#8757b8"/><circle cx="184.8" cy="1032" r="3.3" fill="#8757b8"/><circle cx="197.32" cy="1039.6" r="3.3" fill="#8757b8"/><circle cx="209.84" cy="1049.8" r="3.3" fill="#8757b8"/><circle cx="222.36" cy="1033.2" r="3.3" fill="#8757b8"/><circle cx="234.88" cy="1034.6" r="3.3" fill="#8757b8"/><circle cx="247.4" cy="1035.6" r="3.3" fill="#8757b8"/><circle cx="259.92" cy="1025" r="3.3" fill="#8757b8"/><circle cx="272.44" cy="1015.4" r="3.3" fill="#8757b8"/><path d="M97.16,1024.4 V1055 M94.16,1024.4 H100.16 M94.16,1055 H100.16 M109.68,1041.4 V1070.4 M106.68,1041.4 H112.68 M106.68,1070.4 H112.68 M122.2,1033 V1057.4 M119.2,1033 H125.2 M119.2,1057.4 H125.2 M134.72,1022.4 V1052 M131.72,1022.4 H137.72 M131.72,1052 H137.72 M147.24,1039 V1072.6 M144.24,1039 H150.24 M144.24,1072.6 H150.24 M159.76,1039 V1072 M156.76,1039 H162.76 M156.76,1072 H162.76 M172.28,1050 V1070.4 M169.28,1050 H175.28 M169.28,1070.4 H175.28 M184.8,1052 V1065 M181.8,1052 H187.8 M181.8,1065 H187.8 M197.32,1049.4 V1070.6 M194.32,1049.4 H200.32 M194.32,1070.6 H200.32 M209.84,1056.3 V1068.6 M206.84,1056.3 H212.84 M206.84,1068.6 H212.84 M222.36,1055.5 V1069 M219.36,1055.5 H225.36 M219.36,1069 H225.36 M234.88,1055.4 V1069 M231.88,1055.4 H237.88 M231.88,1069 H237.88 M247.4,1061.4 V1082.4 M244.4,1061.4 H250.4 M244.4,1082.4 H250.4 M259.92,1057 V1069 M256.92,1057 H262.92 M256.92,1069 H262.92 M272.44,1027 V1049.4 M269.44,1027 H275.44 M269.44,1049.4 H275.44" stroke="#111" stroke-width="1.15" fill="none"/><polyline points="97.16,1039.6 109.68,1056 122.2,1045.4 134.72,1037.4 147.24,1056 159.76,1056 172.28,1060.4 184.8,1058.4 197.32,1059.6 209.84,1062.6 222.36,1062 234.88,1062 247.4,1072 259.92,1063.4 272.44,1038.4" fill="none" stroke="#000" stroke-width="1.1"/><circle cx="97.16" cy="1039.6" r="3.3" fill="#000"/><circle cx="109.68" cy="1056" r="3.3" fill="#000"/><circle cx="122.2" cy="1045.4" r="3.3" fill="#000"/><circle cx="134.72" cy="1037.4" r="3.3" fill="#000"/><circle cx="147.24" cy="1056" r="3.3" fill="#000"/><circle cx="159.76" cy="1056" r="3.3" fill="#000"/><circle cx="172.28" cy="1060.4" r="3.3" fill="#000"/><circle cx="184.8" cy="1058.4" r="3.3" fill="#000"/><circle cx="197.32" cy="1059.6" r="3.3" fill="#000"/><circle cx="209.84" cy="1062.6" r="3.3" fill="#000"/><circle cx="222.36" cy="1062" r="3.3" fill="#000"/><circle cx="234.88" cy="1062" r="3.3" fill="#000"/><circle cx="247.4" cy="1072" r="3.3" fill="#000"/><circle cx="259.92" cy="1063.4" r="3.3" fill="#000"/><circle cx="272.44" cy="1038.4" r="3.3" fill="#000"/><line x1="254" y1="1100" x2="271.2" y2="1100" stroke="#000" stroke-width="1.1"/><circle cx="262.6" cy="1100" r="3.2" fill="#000"/><text x="280.8" y="1104.6" font-size="11" fill="#111">DRD<tspan font-size="7.5" dy="-4.3">-</tspan></text><line x1="254" y1="1117.2" x2="271.2" y2="1117.2" stroke="#8757b8" stroke-width="1.1"/><circle cx="262.6" cy="1117.2" r="3.2" fill="#8757b8"/><text x="280.8" y="1121.8" font-size="11" fill="#111">DRD<tspan font-size="7.5" dy="-4.3">+</tspan></text><text x="346" y="963" font-size="26.5" fill="#000">H</text><path d="M404.6,960.3 V1129.7" stroke="#000" stroke-width="2.1"/><text x="395.5" y="965.65" font-size="11.8" text-anchor="end" fill="#111">100</text><text x="395.5" y="999.09" font-size="11.8" text-anchor="end" fill="#111">80</text><text x="395.5" y="1032.53" font-size="11.8" text-anchor="end" fill="#111">60</text><text x="395.5" y="1065.97" font-size="11.8" text-anchor="end" fill="#111">40</text><text x="395.5" y="1099.41" font-size="11.8" text-anchor="end" fill="#111">20</text><path d="M397.6,961.4 H404.6 M397.6,994.84 H404.6 M397.6,1028.28 H404.6 M397.6,1061.72 H404.6 M397.6,1095.16 H404.6" stroke="#000" stroke-width="2.1"/><text transform="translate(367.4,1045) rotate(-90)" font-size="11.8" text-anchor="middle" fill="#111">Freezing (%)</text><path d="M403.55,1128.6 H656.05" stroke="#000" stroke-width="2.1"/><path d="M404.6,1128.6 V1135.6 M467.2,1128.6 V1135.6 M529.8,1128.6 V1135.6 M592.4,1128.6 V1135.6 M655,1128.6 V1135.6" stroke="#000" stroke-width="2.1"/><text x="404.9" y="1149" font-size="11.8" text-anchor="middle" fill="#111">0</text><text x="467.5" y="1149" font-size="11.8" text-anchor="middle" fill="#111">5</text><text x="530.1" y="1149" font-size="11.8" text-anchor="middle" fill="#111">10</text><text x="592.7" y="1149" font-size="11.8" text-anchor="middle" fill="#111">15</text><text x="655.3" y="1149" font-size="11.8" text-anchor="middle" fill="#111">20</text><text x="530.4" y="1165.8" font-size="12" text-anchor="middle" fill="#111">Time (m)</text><text x="411" y="1120.4" font-size="12" fill="#111">Day 2-without CNO</text><circle cx="427.6" cy="970.9" r="8.15" fill="none" stroke="#111" stroke-width="1.3"/><path d="M427.6,979.7 L427.6,990.8 M422,985.2 L433.2,985.2" fill="none" stroke="#111" stroke-width="1.3"/><path d="M442.16,998.4 V1029 M439.16,998.4 H445.16 M439.16,1029 H445.16 M454.68,1005 V1033 M451.68,1005 H457.68 M451.68,1033 H457.68 M467.2,992 V1021.2 M464.2,992 H470.2 M464.2,1021.2 H470.2 M479.72,988.6 V1029 M476.72,988.6 H482.72 M476.72,1029 H482.72 M492.24,1000.2 V1033 M489.24,1000.2 H495.24 M489.24,1033 H495.24 M504.76,1016.4 V1050 M501.76,1016.4 H507.76 M501.76,1050 H507.76 M517.28,986.6 V1009.4 M514.28,986.6 H520.28 M514.28,1009.4 H520.28 M529.8,1004.4 V1037 M526.8,1004.4 H532.8 M526.8,1037 H532.8 M542.32,1014.8 V1052 M539.32,1014.8 H545.32 M539.32,1052 H545.32 M554.84,998.6 V1028 M551.84,998.6 H557.84 M551.84,1028 H557.84 M567.36,1016.5 V1048 M564.36,1016.5 H570.36 M564.36,1048 H570.36 M579.88,1013.6 V1045 M576.88,1013.6 H582.88 M576.88,1045 H582.88 M592.4,1006.6 V1035.4 M589.4,1006.6 H595.4 M589.4,1035.4 H595.4 M604.92,1008.4 V1039 M601.92,1008.4 H607.92 M601.92,1039 H607.92 M617.44,995.4 V1032.4 M614.44,995.4 H620.44 M614.44,1032.4 H620.44" stroke="#333" stroke-width="1.15" fill="none"/><circle cx="442.16" cy="1013.6" r="3.05" fill="#fff"/><circle cx="454.68" cy="1019" r="3.05" fill="#fff"/><circle cx="467.2" cy="1006.6" r="3.05" fill="#fff"/><circle cx="479.72" cy="1009" r="3.05" fill="#fff"/><circle cx="492.24" cy="1016.8" r="3.05" fill="#fff"/><circle cx="504.76" cy="1033.6" r="3.05" fill="#fff"/><circle cx="517.28" cy="998" r="3.05" fill="#fff"/><circle cx="529.8" cy="1020.6" r="3.05" fill="#fff"/><circle cx="542.32" cy="1034" r="3.05" fill="#fff"/><circle cx="554.84" cy="1013.4" r="3.05" fill="#fff"/><circle cx="567.36" cy="1032.7" r="3.05" fill="#fff"/><circle cx="579.88" cy="1029.4" r="3.05" fill="#fff"/><circle cx="592.4" cy="1021" r="3.05" fill="#fff"/><circle cx="604.92" cy="1023.6" r="3.05" fill="#fff"/><circle cx="617.44" cy="1013.4" r="3.05" fill="#fff"/><polyline points="442.16,1013.6 454.68,1019 467.2,1006.6 479.72,1009 492.24,1016.8 504.76,1033.6 517.28,998 529.8,1020.6 542.32,1034 554.84,1013.4 567.36,1032.7 579.88,1029.4 592.4,1021 604.92,1023.6 617.44,1013.4" fill="none" stroke="#8757b8" stroke-width="1.1" stroke-dasharray="2.2,1.8"/><circle cx="442.16" cy="1013.6" r="3.05" fill="none" stroke="#8757b8" stroke-width="1.45"/><circle cx="454.68" cy="1019" r="3.05" fill="none" stroke="#8757b8" stroke-width="1.45"/><circle cx="467.2" cy="1006.6" r="3.05" fill="none" stroke="#8757b8" stroke-width="1.45"/><circle cx="479.72" cy="1009" r="3.05" fill="none" stroke="#8757b8" stroke-width="1.45"/><circle cx="492.24" cy="1016.8" r="3.05" fill="none" stroke="#8757b8" stroke-width="1.45"/><circle cx="504.76" cy="1033.6" r="3.05" fill="none" stroke="#8757b8" stroke-width="1.45"/><circle cx="517.28" cy="998" r="3.05" fill="none" stroke="#8757b8" stroke-width="1.45"/><circle cx="529.8" cy="1020.6" r="3.05" fill="none" stroke="#8757b8" stroke-width="1.45"/><circle cx="542.32" cy="1034" r="3.05" fill="none" stroke="#8757b8" stroke-width="1.45"/><circle cx="554.84" cy="1013.4" r="3.05" fill="none" stroke="#8757b8" stroke-width="1.45"/><circle cx="567.36" cy="1032.7" r="3.05" fill="none" stroke="#8757b8" stroke-width="1.45"/><circle cx="579.88" cy="1029.4" r="3.05" fill="none" stroke="#8757b8" stroke-width="1.45"/><circle cx="592.4" cy="1021" r="3.05" fill="none" stroke="#8757b8" stroke-width="1.45"/><circle cx="604.92" cy="1023.6" r="3.05" fill="none" stroke="#8757b8" stroke-width="1.45"/><circle cx="617.44" cy="1013.4" r="3.05" fill="none" stroke="#8757b8" stroke-width="1.45"/><path d="M442.16,1000 V1034 M439.16,1000 H445.16 M439.16,1034 H445.16 M454.68,1004.6 V1033.4 M451.68,1004.6 H457.68 M451.68,1033.4 H457.68 M467.2,1025.4 V1051 M464.2,1025.4 H470.2 M464.2,1051 H470.2 M479.72,1023.6 V1054 M476.72,1023.6 H482.72 M476.72,1054 H482.72 M492.24,1024.6 V1054.6 M489.24,1024.6 H495.24 M489.24,1054.6 H495.24 M504.76,1026 V1056 M501.76,1026 H507.76 M501.76,1056 H507.76 M517.28,1033 V1061 M514.28,1033 H520.28 M514.28,1061 H520.28 M529.8,1036.4 V1070.6 M526.8,1036.4 H532.8 M526.8,1070.6 H532.8 M542.32,1048.4 V1072 M539.32,1048.4 H545.32 M539.32,1072 H545.32 M554.84,1040.4 V1068 M551.84,1040.4 H557.84 M551.84,1068 H557.84 M567.36,1039.6 V1064.4 M564.36,1039.6 H570.36 M564.36,1064.4 H570.36 M579.88,1036 V1068 M576.88,1036 H582.88 M576.88,1068 H582.88 M592.4,1045 V1065 M589.4,1045 H595.4 M589.4,1065 H595.4 M604.92,1030 V1062 M601.92,1030 H607.92 M601.92,1062 H607.92 M617.44,1032.4 V1046.6 M614.44,1032.4 H620.44 M614.44,1046.6 H620.44" stroke="#111" stroke-width="1.15" fill="none"/><circle cx="442.16" cy="1016.6" r="3.05" fill="#fff"/><circle cx="454.68" cy="1019" r="3.05" fill="#fff"/><circle cx="467.2" cy="1038" r="3.05" fill="#fff"/><circle cx="479.72" cy="1038.6" r="3.05" fill="#fff"/><circle cx="492.24" cy="1040" r="3.05" fill="#fff"/><circle cx="504.76" cy="1041" r="3.05" fill="#fff"/><circle cx="517.28" cy="1047.4" r="3.05" fill="#fff"/><circle cx="529.8" cy="1053.6" r="3.05" fill="#fff"/><circle cx="542.32" cy="1060.4" r="3.05" fill="#fff"/><circle cx="554.84" cy="1054.4" r="3.05" fill="#fff"/><circle cx="567.36" cy="1052.2" r="3.05" fill="#fff"/><circle cx="579.88" cy="1052" r="3.05" fill="#fff"/><circle cx="592.4" cy="1055" r="3.05" fill="#fff"/><circle cx="604.92" cy="1046" r="3.05" fill="#fff"/><circle cx="617.44" cy="1039.6" r="3.05" fill="#fff"/><polyline points="442.16,1016.6 454.68,1019 467.2,1038 479.72,1038.6 492.24,1040 504.76,1041 517.28,1047.4 529.8,1053.6 542.32,1060.4 554.84,1054.4 567.36,1052.2 579.88,1052 592.4,1055 604.92,1046 617.44,1039.6" fill="none" stroke="#000" stroke-width="1.1" stroke-dasharray="2.2,1.8"/><circle cx="442.16" cy="1016.6" r="3.05" fill="none" stroke="#000" stroke-width="1.45"/><circle cx="454.68" cy="1019" r="3.05" fill="none" stroke="#000" stroke-width="1.45"/><circle cx="467.2" cy="1038" r="3.05" fill="none" stroke="#000" stroke-width="1.45"/><circle cx="479.72" cy="1038.6" r="3.05" fill="none" stroke="#000" stroke-width="1.45"/><circle cx="492.24" cy="1040" r="3.05" fill="none" stroke="#000" stroke-width="1.45"/><circle cx="504.76" cy="1041" r="3.05" fill="none" stroke="#000" stroke-width="1.45"/><circle cx="517.28" cy="1047.4" r="3.05" fill="none" stroke="#000" stroke-width="1.45"/><circle cx="529.8" cy="1053.6" r="3.05" fill="none" stroke="#000" stroke-width="1.45"/><circle cx="542.32" cy="1060.4" r="3.05" fill="none" stroke="#000" stroke-width="1.45"/><circle cx="554.84" cy="1054.4" r="3.05" fill="none" stroke="#000" stroke-width="1.45"/><circle cx="567.36" cy="1052.2" r="3.05" fill="none" stroke="#000" stroke-width="1.45"/><circle cx="579.88" cy="1052" r="3.05" fill="none" stroke="#000" stroke-width="1.45"/><circle cx="592.4" cy="1055" r="3.05" fill="none" stroke="#000" stroke-width="1.45"/><circle cx="604.92" cy="1046" r="3.05" fill="none" stroke="#000" stroke-width="1.45"/><circle cx="617.44" cy="1039.6" r="3.05" fill="none" stroke="#000" stroke-width="1.45"/><line x1="598" y1="1101.5" x2="615.2" y2="1101.5" stroke="#000" stroke-width="1.1" stroke-dasharray="2,1.8"/><circle cx="606.6" cy="1101.5" r="3.05" fill="#fff" stroke="#000" stroke-width="1.45"/><text x="625.3" y="1106.1" font-size="11" fill="#111">DRD<tspan font-size="7.5" dy="-4.3">-</tspan></text><line x1="598" y1="1118.7" x2="615.2" y2="1118.7" stroke="#8757b8" stroke-width="1.1" stroke-dasharray="2,1.8"/><circle cx="606.6" cy="1118.7" r="3.05" fill="#fff" stroke="#8757b8" stroke-width="1.45"/><text x="625.3" y="1123.3" font-size="11" fill="#111">DRD<tspan font-size="7.5" dy="-4.3">+</tspan></text></svg></body></html>
